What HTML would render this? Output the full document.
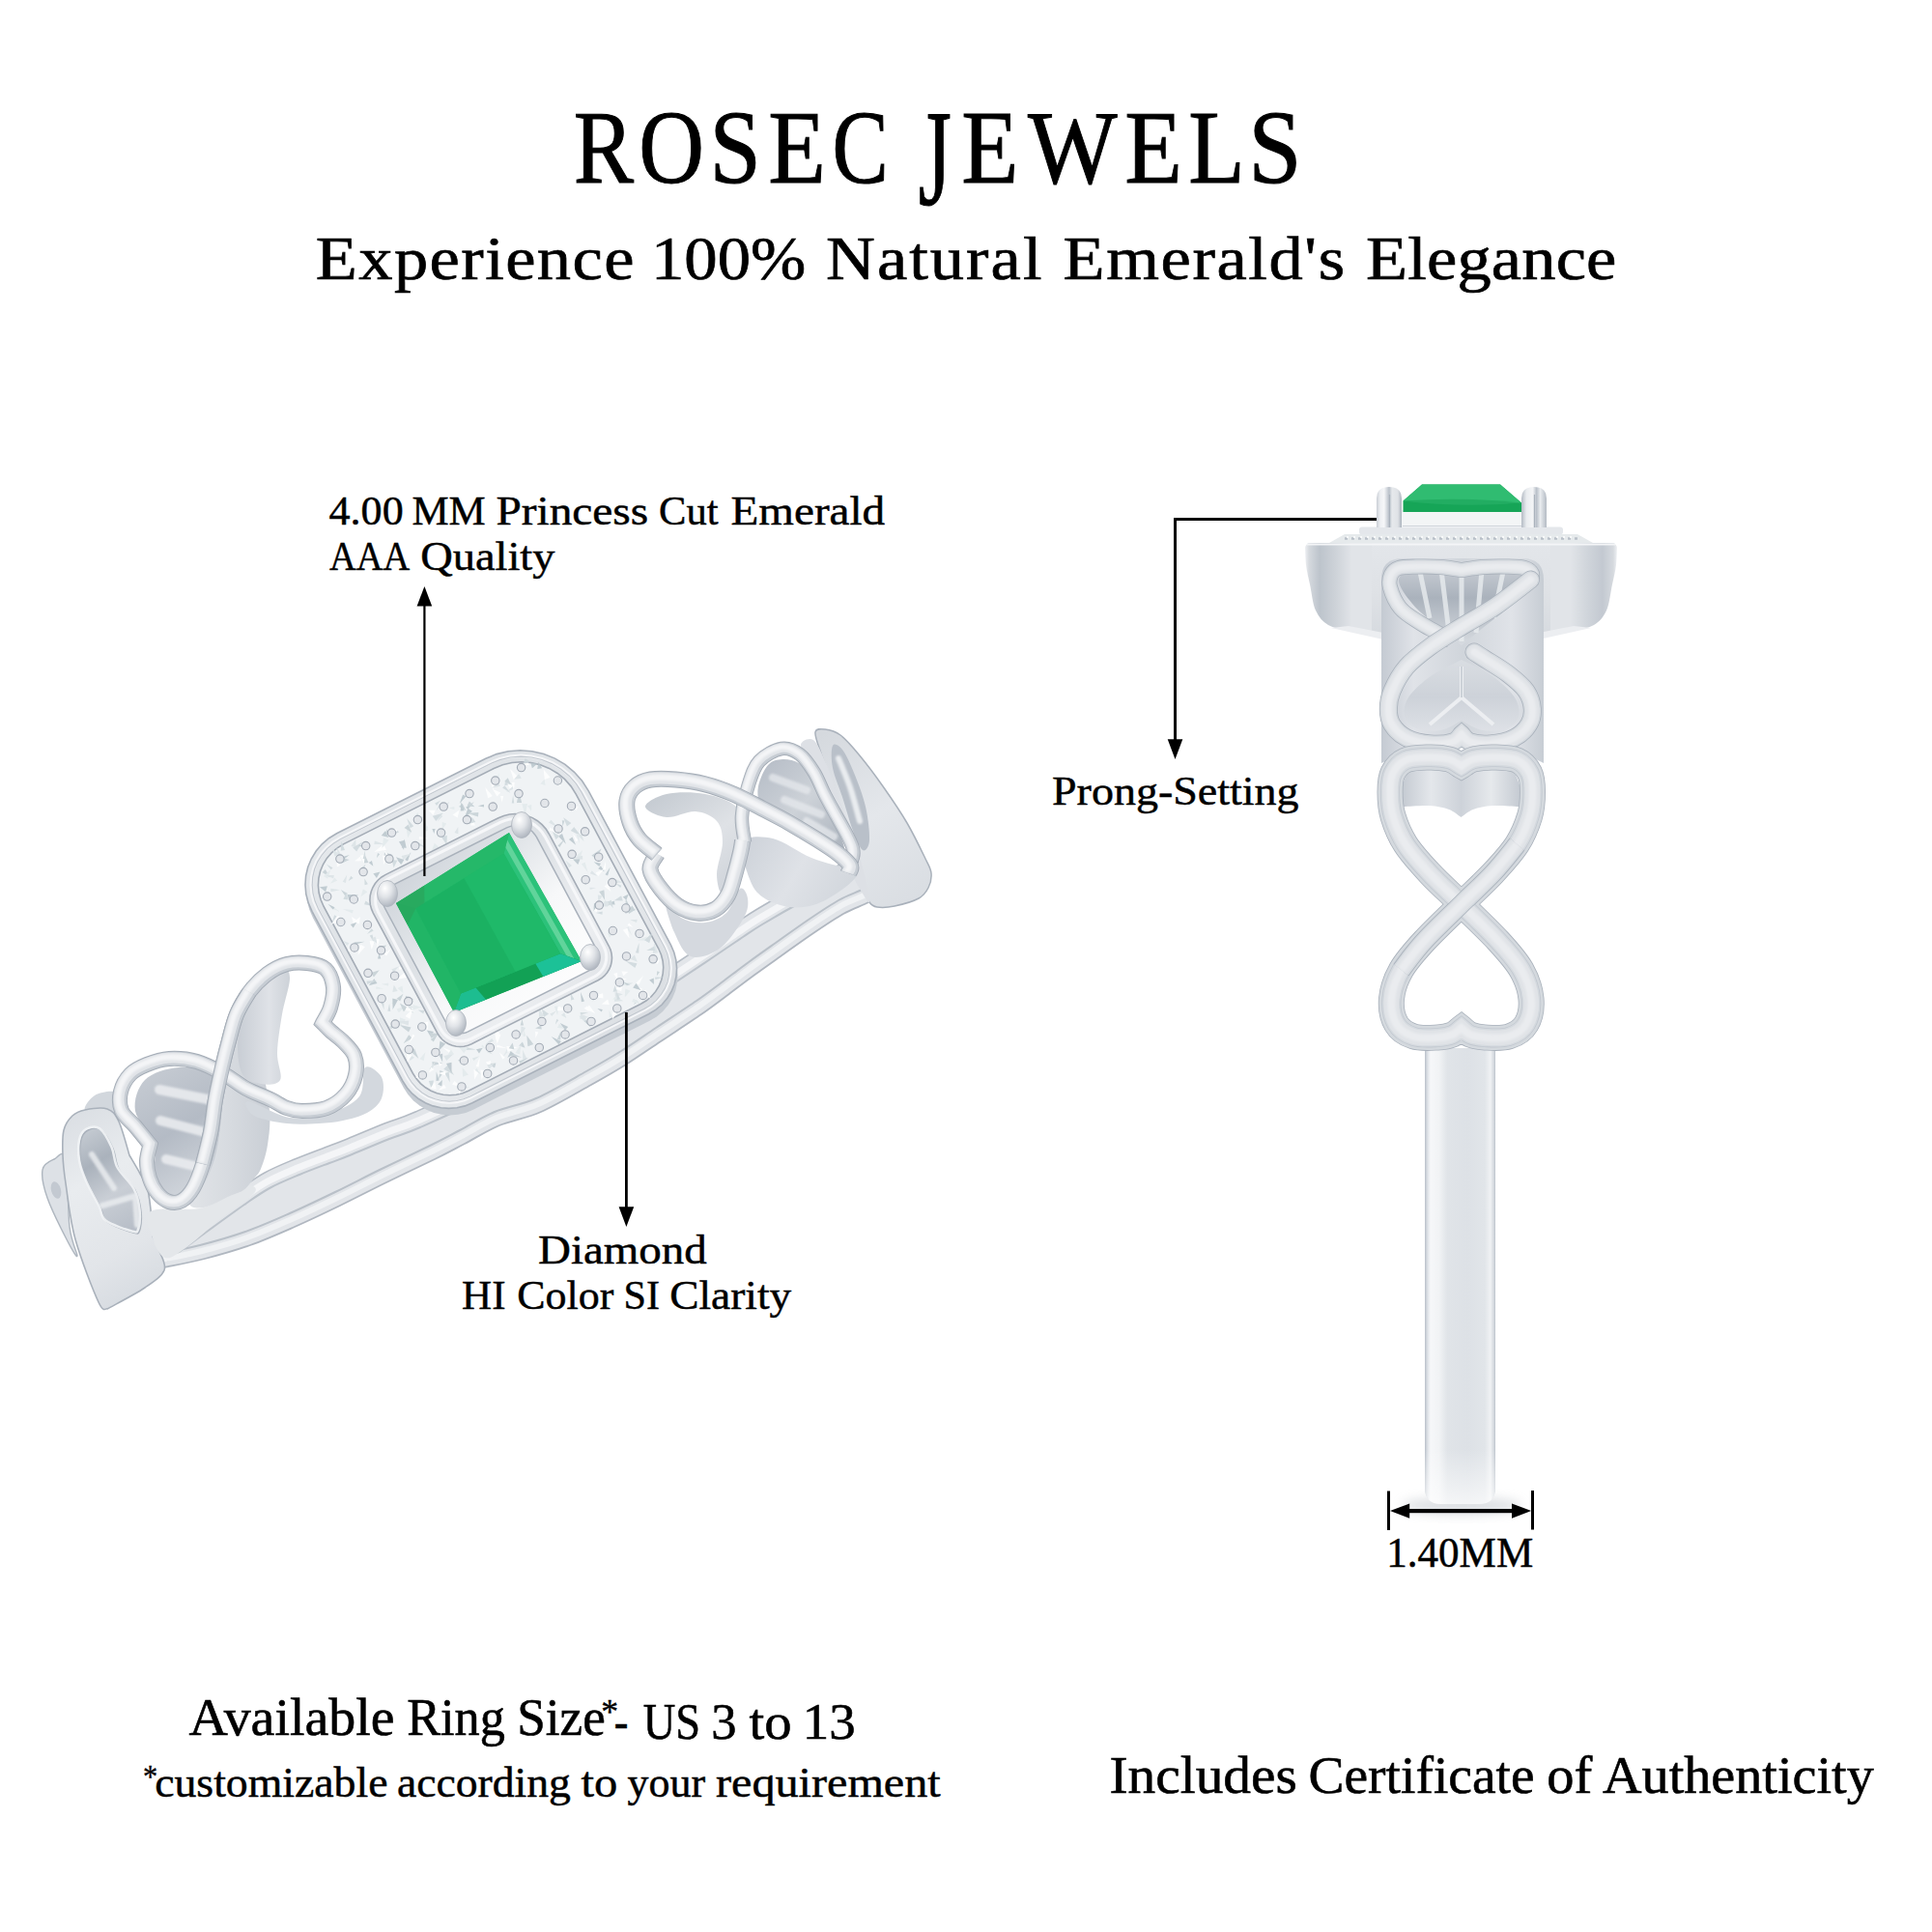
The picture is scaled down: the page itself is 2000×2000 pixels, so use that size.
<!DOCTYPE html>
<html><head><meta charset="utf-8"><title>Rosec Jewels</title>
<style>
html,body{margin:0;padding:0;background:#fff;}
body{width:2000px;height:2000px;overflow:hidden;font-family:"Liberation Serif",serif;}
svg{display:block;position:absolute;left:0;top:0;}
text{font-family:"Liberation Serif",serif;fill:#000;}
</style></head><body>
<svg width="2000" height="2000" viewBox="0 0 2000 2000">
<defs>
<filter id="blur6" x="-50%" y="-50%" width="200%" height="200%"><feGaussianBlur stdDeviation="6"/></filter>
<filter id="blur2" x="-50%" y="-50%" width="200%" height="200%"><feGaussianBlur stdDeviation="2"/></filter>
<filter id="blur1" x="-50%" y="-50%" width="200%" height="200%"><feGaussianBlur stdDeviation="1"/></filter>
<filter id="blur3" x="-50%" y="-50%" width="200%" height="200%"><feGaussianBlur stdDeviation="3.5"/></filter>
<linearGradient id="gShank" gradientUnits="userSpaceOnUse" x1="1475" y1="0" x2="1548" y2="0"><stop offset="0" stop-color="#b9c0c9"/><stop offset="0.04" stop-color="#dfe3e8"/><stop offset="0.08" stop-color="#f6f7f9"/><stop offset="0.2" stop-color="#f1f3f5"/><stop offset="0.32" stop-color="#e0e4e8"/><stop offset="0.6" stop-color="#dde1e6"/><stop offset="0.85" stop-color="#e1e5e9"/><stop offset="0.93" stop-color="#f0f2f4"/><stop offset="0.98" stop-color="#d2d7dd"/><stop offset="1" stop-color="#b9c0c9"/></linearGradient>
<linearGradient id="gShankB" gradientUnits="userSpaceOnUse" x1="0" y1="1500" x2="0" y2="1557"><stop offset="0" stop-color="#ffffff00"/><stop offset="1" stop-color="#ffffffaa"/></linearGradient>
<linearGradient id="gHeadL" gradientUnits="userSpaceOnUse" x1="1351" y1="0" x2="1420" y2="0"><stop offset="0" stop-color="#eef0f3"/><stop offset="0.06" stop-color="#d5d9de"/><stop offset="0.22" stop-color="#bdc4cc"/><stop offset="0.45" stop-color="#cdd2d8"/><stop offset="0.7" stop-color="#e1e4e8"/><stop offset="1" stop-color="#e1e4e8"/></linearGradient>
<linearGradient id="gHeadR" gradientUnits="userSpaceOnUse" x1="1674" y1="0" x2="1605" y2="0"><stop offset="0" stop-color="#eef0f3"/><stop offset="0.06" stop-color="#d5d9de"/><stop offset="0.22" stop-color="#c3c9d1"/><stop offset="0.45" stop-color="#d0d5db"/><stop offset="0.7" stop-color="#e1e4e8"/><stop offset="1" stop-color="#e1e4e8"/></linearGradient>
<linearGradient id="gHeadC" gradientUnits="userSpaceOnUse" x1="0" y1="562" x2="0" y2="660"><stop offset="0" stop-color="#e3e6ea"/><stop offset="0.5" stop-color="#dfe2e6"/><stop offset="1" stop-color="#d6dadf"/></linearGradient>
<linearGradient id="gPrL" gradientUnits="userSpaceOnUse" x1="1425" y1="0" x2="1451" y2="0"><stop offset="0" stop-color="#c9ced5"/><stop offset="0.15" stop-color="#eef0f3"/><stop offset="0.3" stop-color="#f6f7f9"/><stop offset="0.5" stop-color="#b9c0c9"/><stop offset="0.62" stop-color="#e6e9ec"/><stop offset="0.85" stop-color="#dfe2e6"/><stop offset="1" stop-color="#aab2bc"/></linearGradient>
<linearGradient id="gPrR" gradientUnits="userSpaceOnUse" x1="1575" y1="0" x2="1601" y2="0"><stop offset="0" stop-color="#b4bbc4"/><stop offset="0.2" stop-color="#e9ecef"/><stop offset="0.45" stop-color="#f4f5f7"/><stop offset="0.6" stop-color="#b9c0c9"/><stop offset="0.75" stop-color="#e9ecef"/><stop offset="1" stop-color="#b4bbc4"/></linearGradient>
<linearGradient id="gWall" gradientUnits="userSpaceOnUse" x1="1430" y1="0" x2="1598" y2="0"><stop offset="0" stop-color="#c4cad2"/><stop offset="0.2" stop-color="#e0e3e8"/><stop offset="0.5" stop-color="#d0d5db"/><stop offset="0.8" stop-color="#e0e3e8"/><stop offset="1" stop-color="#c7cdd4"/></linearGradient>
<linearGradient id="gIn1" gradientUnits="userSpaceOnUse" x1="0" y1="585" x2="0" y2="670"><stop offset="0" stop-color="#c9ced5"/><stop offset="0.4" stop-color="#aab2bc"/><stop offset="1" stop-color="#d9dde2"/></linearGradient>
<linearGradient id="gIn2" gradientUnits="userSpaceOnUse" x1="0" y1="683" x2="0" y2="760"><stop offset="0" stop-color="#d9dde2"/><stop offset="0.5" stop-color="#cdd2d9"/><stop offset="1" stop-color="#dfe2e7"/></linearGradient>
<linearGradient id="gW2" gradientUnits="userSpaceOnUse" x1="1450" y1="0" x2="1575" y2="0"><stop offset="0" stop-color="#c3c9d1"/><stop offset="0.25" stop-color="#e4e7eb"/><stop offset="0.5" stop-color="#cdd2d9"/><stop offset="0.75" stop-color="#e6e9ec"/><stop offset="1" stop-color="#c3c9d1"/></linearGradient><linearGradient id="gBand" gradientUnits="objectBoundingBox" x1="0" y1="0" x2="0.45" y2="1"><stop offset="0" stop-color="#f0f2f4"/><stop offset="0.12" stop-color="#e6e9ec"/><stop offset="0.2" stop-color="#d9dde2"/><stop offset="0.55" stop-color="#e4e7eb"/><stop offset="0.8" stop-color="#eceef1"/><stop offset="0.9" stop-color="#dde1e5"/><stop offset="1" stop-color="#cdd2d8"/></linearGradient>
<linearGradient id="gL3" gradientUnits="userSpaceOnUse" x1="60" y1="1150" x2="170" y2="1350"><stop offset="0" stop-color="#d9dde2"/><stop offset="0.35" stop-color="#e9ecef"/><stop offset="0.7" stop-color="#e2e5e9"/><stop offset="1" stop-color="#d3d8de"/></linearGradient>
<linearGradient id="gL3h" gradientUnits="userSpaceOnUse" x1="84" y1="1170" x2="146" y2="1276"><stop offset="0" stop-color="#c6ccd3"/><stop offset="0.3" stop-color="#aab2bc"/><stop offset="0.6" stop-color="#c9ced5"/><stop offset="1" stop-color="#b4bbc5"/></linearGradient>
<linearGradient id="gW3" gradientUnits="userSpaceOnUse" x1="200" y1="0" x2="280" y2="0"><stop offset="0" stop-color="#e0e3e7"/><stop offset="0.5" stop-color="#d6dadf"/><stop offset="1" stop-color="#c9ced5"/></linearGradient>
<linearGradient id="gW1" gradientUnits="userSpaceOnUse" x1="247" y1="0" x2="300" y2="0"><stop offset="0" stop-color="#c9ced5"/><stop offset="0.6" stop-color="#dfe2e7"/><stop offset="1" stop-color="#cdd2d8"/></linearGradient>
<linearGradient id="gL2" gradientUnits="userSpaceOnUse" x1="140" y1="1100" x2="225" y2="1240"><stop offset="0" stop-color="#c9ced5"/><stop offset="0.5" stop-color="#b4bbc5"/><stop offset="1" stop-color="#d9dde2"/></linearGradient>
<linearGradient id="gR3" gradientUnits="userSpaceOnUse" x1="850" y1="760" x2="960" y2="930"><stop offset="0" stop-color="#d5d9de"/><stop offset="0.5" stop-color="#e4e7eb"/><stop offset="1" stop-color="#d9dde2"/></linearGradient>
<linearGradient id="gWS" gradientUnits="userSpaceOnUse" x1="770" y1="870" x2="880" y2="935"><stop offset="0" stop-color="#cdd2d9"/><stop offset="0.5" stop-color="#dfe2e7"/><stop offset="1" stop-color="#d0d5db"/></linearGradient>
<linearGradient id="gWR1" gradientUnits="userSpaceOnUse" x1="690" y1="810" x2="775" y2="925"><stop offset="0" stop-color="#c4cad1"/><stop offset="0.5" stop-color="#dfe2e6"/><stop offset="1" stop-color="#cbd0d7"/></linearGradient>
<linearGradient id="gR2in" gradientUnits="userSpaceOnUse" x1="785" y1="786" x2="875" y2="880"><stop offset="0" stop-color="#b5bcc6"/><stop offset="0.5" stop-color="#cdd2d8"/><stop offset="1" stop-color="#aab2bc"/></linearGradient>
<linearGradient id="gHaloO" gradientUnits="userSpaceOnUse" x1="320" y1="800" x2="690" y2="1130"><stop offset="0" stop-color="#e9ecef"/><stop offset="0.3" stop-color="#dfe3e7"/><stop offset="0.6" stop-color="#e8ebee"/><stop offset="1" stop-color="#d5d9de"/></linearGradient>
<linearGradient id="gHaloI" gradientUnits="userSpaceOnUse" x1="370" y1="840" x2="640" y2="1090"><stop offset="0" stop-color="#eceef1"/><stop offset="0.4" stop-color="#dde1e5"/><stop offset="0.7" stop-color="#eceef1"/><stop offset="1" stop-color="#d3d8dd"/></linearGradient>
<linearGradient id="gInner" gradientUnits="userSpaceOnUse" x1="400" y1="860" x2="600" y2="1060"><stop offset="0" stop-color="#c3c9d1"/><stop offset="0.35" stop-color="#dfe3e7"/><stop offset="0.6" stop-color="#f7f8f9"/><stop offset="1" stop-color="#ffffff"/></linearGradient>
<linearGradient id="gEm" gradientUnits="userSpaceOnUse" x1="410" y1="900" x2="600" y2="1040"><stop offset="0" stop-color="#27b86a"/><stop offset="0.45" stop-color="#1fb867"/><stop offset="0.8" stop-color="#17a95c"/><stop offset="1" stop-color="#139f56"/></linearGradient>
<radialGradient id="gProng" cx="0.38" cy="0.3" r="0.75"><stop offset="0" stop-color="#ffffff"/><stop offset="0.45" stop-color="#e1e4e8"/><stop offset="1" stop-color="#aab1bb"/></radialGradient>
</defs>
<rect width="2000" height="2000" fill="#fff"/>
<g id="leftring">
<path d="M168.0,1289.0C174.2,1284.5 191.7,1271.7 205.0,1262.0C218.3,1252.3 236.5,1239.0 248.0,1231.0C259.5,1223.0 264.5,1219.2 274.0,1214.0C283.5,1208.8 294.7,1204.3 305.0,1200.0C315.3,1195.7 327.3,1191.3 336.0,1188.0C344.7,1184.7 346.7,1184.2 357.0,1180.0C367.3,1175.8 385.8,1167.8 398.0,1163.0C410.2,1158.2 413.0,1158.5 430.0,1151.0C447.0,1143.5 471.7,1132.7 500.0,1118.0C528.3,1103.3 568.2,1082.2 600.0,1063.0C631.8,1043.8 668.8,1017.7 691.0,1003.0C713.2,988.3 720.8,983.2 733.0,975.0C745.2,966.8 755.5,959.7 764.0,954.0C772.5,948.3 773.7,947.2 784.0,941.0C794.3,934.8 811.7,924.7 826.0,917.0C840.3,909.3 857.7,900.3 870.0,895.0C882.3,889.7 895.0,886.7 900.0,885.0L905,931C903.3,931.8 900.3,933.5 895.0,936.0C889.7,938.5 881.8,941.0 873.0,946.0C864.2,951.0 852.8,958.7 842.0,966.0C831.2,973.3 818.3,982.7 808.0,990.0C797.7,997.3 789.3,1003.2 780.0,1010.0C770.7,1016.8 761.0,1024.3 752.0,1031.0C743.0,1037.7 737.3,1042.2 726.0,1050.0C714.7,1057.8 697.0,1069.3 684.0,1078.0C671.0,1086.7 660.0,1094.5 648.0,1102.0C636.0,1109.5 626.7,1114.8 612.0,1123.0C597.3,1131.2 575.8,1144.0 560.0,1151.0C544.2,1158.0 530.2,1159.5 517.0,1165.0C503.8,1170.5 492.2,1178.2 481.0,1184.0C469.8,1189.8 463.8,1193.2 450.0,1200.0C436.2,1206.8 414.3,1217.0 398.0,1225.0C381.7,1233.0 367.5,1240.5 352.0,1248.0C336.5,1255.5 320.5,1263.2 305.0,1270.0C289.5,1276.8 274.5,1283.5 259.0,1289.0C243.5,1294.5 226.8,1299.2 212.0,1303.0C197.2,1306.8 177.0,1310.5 170.0,1312.0Z" fill="#e2e5e9"/>
<path d="M171.0,1298.0C177.2,1293.5 194.7,1280.7 208.0,1271.0C221.3,1261.3 239.5,1248.0 251.0,1240.0C262.5,1232.0 267.5,1228.2 277.0,1223.0C286.5,1217.8 297.7,1213.3 308.0,1209.0C318.3,1204.7 330.3,1200.3 339.0,1197.0C347.7,1193.7 349.7,1193.2 360.0,1189.0C370.3,1184.8 388.8,1176.8 401.0,1172.0C413.2,1167.2 416.0,1167.5 433.0,1160.0C450.0,1152.5 474.7,1141.7 503.0,1127.0C531.3,1112.3 571.2,1091.2 603.0,1072.0C634.8,1052.8 671.8,1026.7 694.0,1012.0C716.2,997.3 723.8,992.2 736.0,984.0C748.2,975.8 758.5,968.7 767.0,963.0C775.5,957.3 776.7,956.2 787.0,950.0C797.3,943.8 814.7,933.7 829.0,926.0C843.3,918.3 860.7,909.3 873.0,904.0C885.3,898.7 898.0,895.7 903.0,894.0" fill="none" stroke="#f4f5f7" stroke-width="7"/>
<path d="M173.0,1305.0C179.2,1300.5 196.7,1287.7 210.0,1278.0C223.3,1268.3 241.5,1255.0 253.0,1247.0C264.5,1239.0 269.5,1235.2 279.0,1230.0C288.5,1224.8 299.7,1220.3 310.0,1216.0C320.3,1211.7 332.3,1207.3 341.0,1204.0C349.7,1200.7 351.7,1200.2 362.0,1196.0C372.3,1191.8 390.8,1183.8 403.0,1179.0C415.2,1174.2 418.0,1174.5 435.0,1167.0C452.0,1159.5 476.7,1148.7 505.0,1134.0C533.3,1119.3 573.2,1098.2 605.0,1079.0C636.8,1059.8 673.8,1033.7 696.0,1019.0C718.2,1004.3 725.8,999.2 738.0,991.0C750.2,982.8 760.5,975.7 769.0,970.0C777.5,964.3 778.7,963.2 789.0,957.0C799.3,950.8 816.7,940.7 831.0,933.0C845.3,925.3 862.7,916.3 875.0,911.0C887.3,905.7 900.0,902.7 905.0,901.0" fill="none" stroke="#bcc3cb" stroke-width="2"/>
<path d="M902.0,923.0C900.3,923.8 897.3,925.5 892.0,928.0C886.7,930.5 878.8,933.0 870.0,938.0C861.2,943.0 849.8,950.7 839.0,958.0C828.2,965.3 815.3,974.7 805.0,982.0C794.7,989.3 786.3,995.2 777.0,1002.0C767.7,1008.8 758.0,1016.3 749.0,1023.0C740.0,1029.7 734.3,1034.2 723.0,1042.0C711.7,1049.8 694.0,1061.3 681.0,1070.0C668.0,1078.7 657.0,1086.5 645.0,1094.0C633.0,1101.5 623.7,1106.8 609.0,1115.0C594.3,1123.2 572.8,1136.0 557.0,1143.0C541.2,1150.0 527.2,1151.5 514.0,1157.0C500.8,1162.5 489.2,1170.2 478.0,1176.0C466.8,1181.8 460.8,1185.2 447.0,1192.0C433.2,1198.8 411.3,1209.0 395.0,1217.0C378.7,1225.0 364.5,1232.5 349.0,1240.0C333.5,1247.5 317.5,1255.2 302.0,1262.0C286.5,1268.8 271.5,1275.5 256.0,1281.0C240.5,1286.5 223.8,1291.2 209.0,1295.0C194.2,1298.8 174.0,1302.5 167.0,1304.0" fill="none" stroke="#f0f2f4" stroke-width="6"/>
<path d="M900.0,917.0C898.3,917.8 895.3,919.5 890.0,922.0C884.7,924.5 876.8,927.0 868.0,932.0C859.2,937.0 847.8,944.7 837.0,952.0C826.2,959.3 813.3,968.7 803.0,976.0C792.7,983.3 784.3,989.2 775.0,996.0C765.7,1002.8 756.0,1010.3 747.0,1017.0C738.0,1023.7 732.3,1028.2 721.0,1036.0C709.7,1043.8 692.0,1055.3 679.0,1064.0C666.0,1072.7 655.0,1080.5 643.0,1088.0C631.0,1095.5 621.7,1100.8 607.0,1109.0C592.3,1117.2 570.8,1130.0 555.0,1137.0C539.2,1144.0 525.2,1145.5 512.0,1151.0C498.8,1156.5 487.2,1164.2 476.0,1170.0C464.8,1175.8 458.8,1179.2 445.0,1186.0C431.2,1192.8 409.3,1203.0 393.0,1211.0C376.7,1219.0 362.5,1226.5 347.0,1234.0C331.5,1241.5 315.5,1249.2 300.0,1256.0C284.5,1262.8 269.5,1269.5 254.0,1275.0C238.5,1280.5 221.8,1285.2 207.0,1289.0C192.2,1292.8 172.0,1296.5 165.0,1298.0" fill="none" stroke="#b9c0c8" stroke-width="2"/>
<path d="M905.0,931.0C903.3,931.8 900.3,933.5 895.0,936.0C889.7,938.5 881.8,941.0 873.0,946.0C864.2,951.0 852.8,958.7 842.0,966.0C831.2,973.3 818.3,982.7 808.0,990.0C797.7,997.3 789.3,1003.2 780.0,1010.0C770.7,1016.8 761.0,1024.3 752.0,1031.0C743.0,1037.7 737.3,1042.2 726.0,1050.0C714.7,1057.8 697.0,1069.3 684.0,1078.0C671.0,1086.7 660.0,1094.5 648.0,1102.0C636.0,1109.5 626.7,1114.8 612.0,1123.0C597.3,1131.2 575.8,1144.0 560.0,1151.0C544.2,1158.0 530.2,1159.5 517.0,1165.0C503.8,1170.5 492.2,1178.2 481.0,1184.0C469.8,1189.8 463.8,1193.2 450.0,1200.0C436.2,1206.8 414.3,1217.0 398.0,1225.0C381.7,1233.0 367.5,1240.5 352.0,1248.0C336.5,1255.5 320.5,1263.2 305.0,1270.0C289.5,1276.8 274.5,1283.5 259.0,1289.0C243.5,1294.5 226.8,1299.2 212.0,1303.0C197.2,1306.8 177.0,1310.5 170.0,1312.0" fill="none" stroke="#b0b7c0" stroke-width="1.8"/>
<path d="M168.0,1289.0C174.2,1284.5 191.7,1271.7 205.0,1262.0C218.3,1252.3 236.5,1239.0 248.0,1231.0C259.5,1223.0 264.5,1219.2 274.0,1214.0C283.5,1208.8 294.7,1204.3 305.0,1200.0C315.3,1195.7 327.3,1191.3 336.0,1188.0C344.7,1184.7 346.7,1184.2 357.0,1180.0C367.3,1175.8 385.8,1167.8 398.0,1163.0C410.2,1158.2 413.0,1158.5 430.0,1151.0C447.0,1143.5 471.7,1132.7 500.0,1118.0C528.3,1103.3 568.2,1082.2 600.0,1063.0C631.8,1043.8 668.8,1017.7 691.0,1003.0C713.2,988.3 720.8,983.2 733.0,975.0C745.2,966.8 755.5,959.7 764.0,954.0C772.5,948.3 773.7,947.2 784.0,941.0C794.3,934.8 811.7,924.7 826.0,917.0C840.3,909.3 857.7,900.3 870.0,895.0C882.3,889.7 895.0,886.7 900.0,885.0" fill="none" stroke="#b4bbc4" stroke-width="1.5"/>
<path d="M44.0,1211.0C45.2,1204.3 52.0,1201.8 56.0,1200.0C60.0,1198.2 65.3,1188.3 68.0,1200.0C70.7,1211.7 70.0,1253.3 72.0,1270.0C74.0,1286.7 80.3,1297.5 80.0,1300.0C79.7,1302.5 75.2,1295.0 70.0,1285.0C64.8,1275.0 53.3,1252.3 49.0,1240.0C44.7,1227.7 42.8,1217.7 44.0,1211.0Z" fill="#dde1e6" stroke="#aeb6bf" stroke-width="1.4"/>
<ellipse cx="58" cy="1232" rx="5" ry="9" fill="#c3c9d1" transform="rotate(-15 58 1232)"/>
<path d="M88.0,1149.0C85.8,1146.7 93.0,1137.2 98.0,1134.0C103.0,1130.8 113.7,1129.0 118.0,1130.0C122.3,1131.0 123.2,1134.8 124.0,1140.0C124.8,1145.2 125.2,1159.7 123.0,1161.0C120.8,1162.3 116.8,1150.0 111.0,1148.0C105.2,1146.0 90.2,1151.3 88.0,1149.0Z" fill="#d2d7dd" />
<path d="M134.0,1196.0C135.8,1199.2 141.8,1209.0 145.0,1215.0C148.2,1221.0 151.0,1224.2 153.0,1232.0C155.0,1239.8 156.2,1254.0 157.0,1262.0C157.8,1270.0 157.8,1277.0 158.0,1280.0C159.2,1282.5 163.0,1289.2 165.0,1295.0C167.0,1300.8 172.5,1308.7 170.0,1315.0C167.5,1321.3 159.8,1326.3 150.0,1333.0C140.2,1339.7 117.5,1351.3 111.0,1355.0C109.5,1353.8 107.5,1360.0 102.0,1348.0C96.5,1336.0 83.7,1303.5 78.0,1283.0C72.3,1262.5 70.2,1239.5 68.0,1225.0C65.8,1210.5 65.3,1205.2 65.0,1196.0C64.7,1186.8 64.3,1176.8 66.0,1170.0C67.7,1163.2 71.3,1158.5 75.0,1155.0C78.7,1151.5 82.0,1150.2 88.0,1149.0C94.0,1147.8 105.2,1146.0 111.0,1148.0C116.8,1150.0 119.2,1153.0 123.0,1161.0C126.8,1169.0 132.2,1190.2 134.0,1196.0Z" fill="url(#gL3)" stroke="#a9b1bb" stroke-width="1.6" stroke-linejoin="round"/>
<path d="M83.6,1181.0C84.8,1175.5 87.4,1171.8 91.0,1170.0C94.6,1168.2 100.7,1166.8 105.0,1170.0C109.3,1173.2 114.0,1182.3 117.0,1189.0C120.0,1195.7 119.2,1202.8 123.0,1210.0C126.8,1217.2 136.2,1224.7 140.0,1232.0C143.8,1239.3 145.2,1247.0 146.0,1254.0C146.8,1261.0 145.8,1270.3 144.5,1274.0C143.2,1277.7 143.6,1277.5 138.0,1276.0C132.4,1274.5 116.7,1269.3 111.0,1265.0C105.3,1260.7 107.3,1256.7 104.0,1250.0C100.7,1243.3 94.4,1232.8 91.0,1225.0C87.6,1217.2 84.8,1210.3 83.6,1203.0C82.4,1195.7 82.4,1186.5 83.6,1181.0Z" fill="url(#gL3h)" stroke="#a9b1bb" stroke-width="1.4"/>
<path d="M83.6,1181.0C84.8,1175.5 87.4,1171.8 91.0,1170.0C94.6,1168.2 100.7,1166.8 105.0,1170.0C109.3,1173.2 114.0,1182.3 117.0,1189.0C120.0,1195.7 119.2,1202.8 123.0,1210.0C126.8,1217.2 136.2,1224.7 140.0,1232.0C143.8,1239.3 145.2,1247.0 146.0,1254.0C146.8,1261.0 145.8,1270.3 144.5,1274.0C143.2,1277.7 143.6,1277.5 138.0,1276.0C132.4,1274.5 116.7,1269.3 111.0,1265.0C105.3,1260.7 107.3,1256.7 104.0,1250.0C100.7,1243.3 94.4,1232.8 91.0,1225.0C87.6,1217.2 84.8,1210.3 83.6,1203.0C82.4,1195.7 82.4,1186.5 83.6,1181.0Z" fill="none" stroke="#f2f4f6" stroke-width="2.5" transform="translate(-1.5,-1.5)" opacity="0.9"/>
<path d="M95,1195 L118,1230 M106,1248 L140,1238 L142,1268" stroke="#e9ecef" stroke-width="6" fill="none" stroke-linecap="round" stroke-linejoin="round" opacity="0.85" filter="url(#blur1)"/>
<path d="M156.0,1254.0C164.8,1248.7 195.3,1254.3 211.0,1250.0C226.7,1245.7 241.2,1230.7 250.0,1228.0C258.8,1225.3 267.7,1228.3 264.0,1234.0C260.3,1239.7 240.0,1252.3 228.0,1262.0C216.0,1271.7 201.5,1285.3 192.0,1292.0C182.5,1298.7 176.7,1303.7 171.0,1302.0C165.3,1300.3 160.5,1290.0 158.0,1282.0C155.5,1274.0 147.2,1259.3 156.0,1254.0Z" fill="#e4e7ea" />
<path d="M240.0,1070.0C244.7,1065.5 253.0,1073.0 258.0,1078.0C263.0,1083.0 266.5,1088.0 270.0,1100.0C273.5,1112.0 277.8,1135.8 279.0,1150.0C280.2,1164.2 278.5,1175.0 277.0,1185.0C275.5,1195.0 272.5,1204.0 270.0,1210.0C267.5,1216.0 265.0,1217.3 262.0,1221.0C259.0,1224.7 256.0,1229.2 252.0,1232.0C248.0,1234.8 244.8,1235.0 238.0,1238.0C231.2,1241.0 218.0,1248.7 211.0,1250.0C204.0,1251.3 196.8,1250.2 196.0,1246.0C195.2,1241.8 203.2,1232.7 206.0,1225.0C208.8,1217.3 211.0,1208.8 213.0,1200.0C215.0,1191.2 216.3,1182.3 218.0,1172.0C219.7,1161.7 221.0,1149.2 223.0,1138.0C225.0,1126.8 227.2,1116.3 230.0,1105.0C232.8,1093.7 235.3,1074.5 240.0,1070.0Z" fill="url(#gW3)" />
<path d="M290.0,1003.0C296.3,1000.0 299.7,1004.2 300.0,1012.0C300.3,1019.8 294.2,1037.0 292.0,1050.0C289.8,1063.0 287.3,1078.7 287.0,1090.0C286.7,1101.3 292.8,1112.7 290.0,1118.0C287.2,1123.3 276.7,1123.3 270.0,1122.0C263.3,1120.7 253.8,1118.7 250.0,1110.0C246.2,1101.3 245.0,1083.3 247.0,1070.0C249.0,1056.7 254.8,1041.2 262.0,1030.0C269.2,1018.8 283.7,1006.0 290.0,1003.0Z" fill="url(#gW1)" />
<path d="M257.0,1140.0C263.2,1140.3 286.2,1154.8 300.0,1157.0C313.8,1159.2 328.0,1156.7 340.0,1153.0C352.0,1149.3 365.7,1143.0 372.0,1135.0C378.3,1127.0 374.2,1108.3 378.0,1105.0C381.8,1101.7 392.2,1109.7 395.0,1115.0C397.8,1120.3 397.5,1130.8 395.0,1137.0C392.5,1143.2 386.7,1148.2 380.0,1152.0C373.3,1155.8 363.3,1158.2 355.0,1160.0C346.7,1161.8 339.7,1162.5 330.0,1163.0C320.3,1163.5 308.2,1164.3 297.0,1163.0C285.8,1161.7 269.7,1158.8 263.0,1155.0C256.3,1151.2 250.8,1139.7 257.0,1140.0Z" fill="#d3d8de" />
<path d="M160.0,1183.0C156.7,1172.2 141.7,1160.8 140.0,1150.0C138.3,1139.2 142.5,1125.5 150.0,1118.0C157.5,1110.5 172.5,1106.0 185.0,1105.0C197.5,1104.0 217.5,1106.2 225.0,1112.0C232.5,1117.8 230.5,1125.3 230.0,1140.0C229.5,1154.7 227.0,1183.3 222.0,1200.0C217.0,1216.7 208.3,1233.3 200.0,1240.0C191.7,1246.7 178.7,1244.2 172.0,1240.0C165.3,1235.8 162.0,1224.5 160.0,1215.0C158.0,1205.5 163.3,1193.8 160.0,1183.0Z" fill="url(#gL2)" />
<path d="M165,1128 L215,1138 M166,1160 L212,1172 M172,1200 L205,1208" stroke="#eceef1" stroke-width="10" stroke-linecap="round" opacity="0.85" filter="url(#blur1)"/>
<path d="M334.0,1059.0C335.3,1056.3 340.2,1049.2 342.0,1043.0C343.8,1036.8 345.8,1028.7 345.0,1022.0C344.2,1015.3 341.5,1007.2 337.0,1003.0C332.5,998.8 324.7,997.8 318.0,997.0C311.3,996.2 303.8,996.2 297.0,998.0C290.2,999.8 283.5,1003.2 277.0,1008.0C270.5,1012.8 263.3,1020.0 258.0,1027.0C252.7,1034.0 248.5,1041.7 245.0,1050.0C241.5,1058.3 239.5,1067.8 237.0,1077.0C234.5,1086.2 232.3,1094.8 230.0,1105.0C227.7,1115.2 225.0,1126.8 223.0,1138.0C221.0,1149.2 220.2,1160.8 218.0,1172.0C215.8,1183.2 213.0,1195.3 210.0,1205.0C207.0,1214.7 203.7,1223.7 200.0,1230.0C196.3,1236.3 192.2,1240.7 188.0,1243.0C183.8,1245.3 179.2,1245.3 175.0,1244.0C170.8,1242.7 166.3,1239.0 163.0,1235.0C159.7,1231.0 156.8,1225.5 155.0,1220.0C153.2,1214.5 151.9,1207.8 152.0,1202.0C152.1,1196.2 154.9,1187.8 155.5,1185.0C152.9,1181.8 144.9,1171.8 140.0,1166.0C135.1,1160.2 128.5,1156.0 126.0,1150.0C123.5,1144.0 123.5,1136.3 125.0,1130.0C126.5,1123.7 130.5,1116.7 135.0,1112.0C139.5,1107.3 145.3,1104.7 152.0,1102.0C158.7,1099.3 166.3,1096.5 175.0,1096.0C183.7,1095.5 194.5,1096.3 204.0,1099.0C213.5,1101.7 223.5,1107.3 232.0,1112.0C240.5,1116.7 247.0,1122.7 255.0,1127.0C263.0,1131.3 273.0,1134.7 280.0,1138.0C287.0,1141.3 291.5,1145.0 297.0,1147.0C302.5,1149.0 306.2,1150.0 313.0,1150.0C319.8,1150.0 330.5,1149.8 338.0,1147.0C345.5,1144.2 353.0,1138.7 358.0,1133.0C363.0,1127.3 366.5,1119.7 368.0,1113.0C369.5,1106.3 369.2,1098.8 367.0,1093.0C364.8,1087.2 359.0,1082.2 355.0,1078.0C351.0,1073.8 346.5,1071.2 343.0,1068.0C339.5,1064.8 335.5,1060.5 334.0,1059.0Z" fill="none" stroke-linecap="butt" stroke-linejoin="miter" stroke-miterlimit="3" stroke="#a4acb6" stroke-width="16"/>
<path d="M334.0,1059.0C335.3,1056.3 340.2,1049.2 342.0,1043.0C343.8,1036.8 345.8,1028.7 345.0,1022.0C344.2,1015.3 341.5,1007.2 337.0,1003.0C332.5,998.8 324.7,997.8 318.0,997.0C311.3,996.2 303.8,996.2 297.0,998.0C290.2,999.8 283.5,1003.2 277.0,1008.0C270.5,1012.8 263.3,1020.0 258.0,1027.0C252.7,1034.0 248.5,1041.7 245.0,1050.0C241.5,1058.3 239.5,1067.8 237.0,1077.0C234.5,1086.2 232.3,1094.8 230.0,1105.0C227.7,1115.2 225.0,1126.8 223.0,1138.0C221.0,1149.2 220.2,1160.8 218.0,1172.0C215.8,1183.2 213.0,1195.3 210.0,1205.0C207.0,1214.7 203.7,1223.7 200.0,1230.0C196.3,1236.3 192.2,1240.7 188.0,1243.0C183.8,1245.3 179.2,1245.3 175.0,1244.0C170.8,1242.7 166.3,1239.0 163.0,1235.0C159.7,1231.0 156.8,1225.5 155.0,1220.0C153.2,1214.5 151.9,1207.8 152.0,1202.0C152.1,1196.2 154.9,1187.8 155.5,1185.0C152.9,1181.8 144.9,1171.8 140.0,1166.0C135.1,1160.2 128.5,1156.0 126.0,1150.0C123.5,1144.0 123.5,1136.3 125.0,1130.0C126.5,1123.7 130.5,1116.7 135.0,1112.0C139.5,1107.3 145.3,1104.7 152.0,1102.0C158.7,1099.3 166.3,1096.5 175.0,1096.0C183.7,1095.5 194.5,1096.3 204.0,1099.0C213.5,1101.7 223.5,1107.3 232.0,1112.0C240.5,1116.7 247.0,1122.7 255.0,1127.0C263.0,1131.3 273.0,1134.7 280.0,1138.0C287.0,1141.3 291.5,1145.0 297.0,1147.0C302.5,1149.0 306.2,1150.0 313.0,1150.0C319.8,1150.0 330.5,1149.8 338.0,1147.0C345.5,1144.2 353.0,1138.7 358.0,1133.0C363.0,1127.3 366.5,1119.7 368.0,1113.0C369.5,1106.3 369.2,1098.8 367.0,1093.0C364.8,1087.2 359.0,1082.2 355.0,1078.0C351.0,1073.8 346.5,1071.2 343.0,1068.0C339.5,1064.8 335.5,1060.5 334.0,1059.0Z" fill="none" stroke-linecap="butt" stroke-linejoin="miter" stroke-miterlimit="3" stroke="#c6ccd3" stroke-width="14.2"/>
<path d="M334.0,1059.0C335.3,1056.3 340.2,1049.2 342.0,1043.0C343.8,1036.8 345.8,1028.7 345.0,1022.0C344.2,1015.3 341.5,1007.2 337.0,1003.0C332.5,998.8 324.7,997.8 318.0,997.0C311.3,996.2 303.8,996.2 297.0,998.0C290.2,999.8 283.5,1003.2 277.0,1008.0C270.5,1012.8 263.3,1020.0 258.0,1027.0C252.7,1034.0 248.5,1041.7 245.0,1050.0C241.5,1058.3 239.5,1067.8 237.0,1077.0C234.5,1086.2 232.3,1094.8 230.0,1105.0C227.7,1115.2 225.0,1126.8 223.0,1138.0C221.0,1149.2 220.2,1160.8 218.0,1172.0C215.8,1183.2 213.0,1195.3 210.0,1205.0C207.0,1214.7 203.7,1223.7 200.0,1230.0C196.3,1236.3 192.2,1240.7 188.0,1243.0C183.8,1245.3 179.2,1245.3 175.0,1244.0C170.8,1242.7 166.3,1239.0 163.0,1235.0C159.7,1231.0 156.8,1225.5 155.0,1220.0C153.2,1214.5 151.9,1207.8 152.0,1202.0C152.1,1196.2 154.9,1187.8 155.5,1185.0C152.9,1181.8 144.9,1171.8 140.0,1166.0C135.1,1160.2 128.5,1156.0 126.0,1150.0C123.5,1144.0 123.5,1136.3 125.0,1130.0C126.5,1123.7 130.5,1116.7 135.0,1112.0C139.5,1107.3 145.3,1104.7 152.0,1102.0C158.7,1099.3 166.3,1096.5 175.0,1096.0C183.7,1095.5 194.5,1096.3 204.0,1099.0C213.5,1101.7 223.5,1107.3 232.0,1112.0C240.5,1116.7 247.0,1122.7 255.0,1127.0C263.0,1131.3 273.0,1134.7 280.0,1138.0C287.0,1141.3 291.5,1145.0 297.0,1147.0C302.5,1149.0 306.2,1150.0 313.0,1150.0C319.8,1150.0 330.5,1149.8 338.0,1147.0C345.5,1144.2 353.0,1138.7 358.0,1133.0C363.0,1127.3 366.5,1119.7 368.0,1113.0C369.5,1106.3 369.2,1098.8 367.0,1093.0C364.8,1087.2 359.0,1082.2 355.0,1078.0C351.0,1073.8 346.5,1071.2 343.0,1068.0C339.5,1064.8 335.5,1060.5 334.0,1059.0Z" fill="none" stroke-linecap="butt" stroke-linejoin="miter" stroke-miterlimit="3" stroke="#e1e4e8" stroke-width="11" transform="translate(-0.8,-0.8)"/>
<path d="M334.0,1059.0C335.3,1056.3 340.2,1049.2 342.0,1043.0C343.8,1036.8 345.8,1028.7 345.0,1022.0C344.2,1015.3 341.5,1007.2 337.0,1003.0C332.5,998.8 324.7,997.8 318.0,997.0C311.3,996.2 303.8,996.2 297.0,998.0C290.2,999.8 283.5,1003.2 277.0,1008.0C270.5,1012.8 263.3,1020.0 258.0,1027.0C252.7,1034.0 248.5,1041.7 245.0,1050.0C241.5,1058.3 239.5,1067.8 237.0,1077.0C234.5,1086.2 232.3,1094.8 230.0,1105.0C227.7,1115.2 225.0,1126.8 223.0,1138.0C221.0,1149.2 220.2,1160.8 218.0,1172.0C215.8,1183.2 213.0,1195.3 210.0,1205.0C207.0,1214.7 203.7,1223.7 200.0,1230.0C196.3,1236.3 192.2,1240.7 188.0,1243.0C183.8,1245.3 179.2,1245.3 175.0,1244.0C170.8,1242.7 166.3,1239.0 163.0,1235.0C159.7,1231.0 156.8,1225.5 155.0,1220.0C153.2,1214.5 151.9,1207.8 152.0,1202.0C152.1,1196.2 154.9,1187.8 155.5,1185.0C152.9,1181.8 144.9,1171.8 140.0,1166.0C135.1,1160.2 128.5,1156.0 126.0,1150.0C123.5,1144.0 123.5,1136.3 125.0,1130.0C126.5,1123.7 130.5,1116.7 135.0,1112.0C139.5,1107.3 145.3,1104.7 152.0,1102.0C158.7,1099.3 166.3,1096.5 175.0,1096.0C183.7,1095.5 194.5,1096.3 204.0,1099.0C213.5,1101.7 223.5,1107.3 232.0,1112.0C240.5,1116.7 247.0,1122.7 255.0,1127.0C263.0,1131.3 273.0,1134.7 280.0,1138.0C287.0,1141.3 291.5,1145.0 297.0,1147.0C302.5,1149.0 306.2,1150.0 313.0,1150.0C319.8,1150.0 330.5,1149.8 338.0,1147.0C345.5,1144.2 353.0,1138.7 358.0,1133.0C363.0,1127.3 366.5,1119.7 368.0,1113.0C369.5,1106.3 369.2,1098.8 367.0,1093.0C364.8,1087.2 359.0,1082.2 355.0,1078.0C351.0,1073.8 346.5,1071.2 343.0,1068.0C339.5,1064.8 335.5,1060.5 334.0,1059.0Z" fill="none" stroke-linecap="butt" stroke-linejoin="miter" stroke-miterlimit="3" stroke="#f4f5f7" stroke-width="5.8" filter="url(#blur1)" transform="translate(-1.6,-1.6)"/>
<path d="M258.0,1027.0C255.8,1030.8 248.5,1041.7 245.0,1050.0C241.5,1058.3 239.5,1067.8 237.0,1077.0C234.5,1086.2 232.3,1094.8 230.0,1105.0C227.7,1115.2 225.0,1126.8 223.0,1138.0C221.0,1149.2 220.2,1160.8 218.0,1172.0C215.8,1183.2 211.3,1199.5 210.0,1205.0" fill="none" stroke-linecap="butt" stroke-linejoin="miter" stroke-miterlimit="3" stroke="#a4acb6" stroke-width="16"/>
<path d="M258.0,1027.0C255.8,1030.8 248.5,1041.7 245.0,1050.0C241.5,1058.3 239.5,1067.8 237.0,1077.0C234.5,1086.2 232.3,1094.8 230.0,1105.0C227.7,1115.2 225.0,1126.8 223.0,1138.0C221.0,1149.2 220.2,1160.8 218.0,1172.0C215.8,1183.2 211.3,1199.5 210.0,1205.0" fill="none" stroke-linecap="butt" stroke-linejoin="miter" stroke-miterlimit="3" stroke="#c6ccd3" stroke-width="14.2"/>
<path d="M258.0,1027.0C255.8,1030.8 248.5,1041.7 245.0,1050.0C241.5,1058.3 239.5,1067.8 237.0,1077.0C234.5,1086.2 232.3,1094.8 230.0,1105.0C227.7,1115.2 225.0,1126.8 223.0,1138.0C221.0,1149.2 220.2,1160.8 218.0,1172.0C215.8,1183.2 211.3,1199.5 210.0,1205.0" fill="none" stroke-linecap="butt" stroke-linejoin="miter" stroke-miterlimit="3" stroke="#e1e4e8" stroke-width="11" transform="translate(-0.8,-0.8)"/>
<path d="M258.0,1027.0C255.8,1030.8 248.5,1041.7 245.0,1050.0C241.5,1058.3 239.5,1067.8 237.0,1077.0C234.5,1086.2 232.3,1094.8 230.0,1105.0C227.7,1115.2 225.0,1126.8 223.0,1138.0C221.0,1149.2 220.2,1160.8 218.0,1172.0C215.8,1183.2 211.3,1199.5 210.0,1205.0" fill="none" stroke-linecap="butt" stroke-linejoin="miter" stroke-miterlimit="3" stroke="#f4f5f7" stroke-width="5.8" filter="url(#blur1)" transform="translate(-1.6,-1.6)"/>
<path d="M844.0,758.0C844.7,753.8 849.7,754.5 854.0,755.0C858.3,755.5 864.2,756.7 870.0,761.0C875.8,765.3 881.7,772.2 889.0,781.0C896.3,789.8 905.7,802.2 914.0,814.0C922.3,825.8 931.7,839.5 939.0,852.0C946.3,864.5 953.8,880.3 958.0,889.0C962.2,897.7 963.5,899.0 964.0,904.0C964.5,909.0 963.2,914.7 961.0,919.0C958.8,923.3 956.8,926.8 951.0,930.0C945.2,933.2 933.2,936.5 926.0,938.0C918.8,939.5 912.3,939.7 908.0,939.0C903.7,938.3 902.2,937.2 900.0,934.0C897.8,930.8 897.5,929.0 895.0,920.0C892.5,911.0 890.0,896.7 885.0,880.0C880.0,863.3 870.8,836.7 865.0,820.0C859.2,803.3 853.5,790.3 850.0,780.0C846.5,769.7 843.3,762.2 844.0,758.0Z" fill="url(#gR3)" stroke="#a9b1bb" stroke-width="1.5"/>
<path d="M862.0,772.0C863.7,768.8 868.3,771.3 872.0,776.0C875.7,780.7 880.0,790.2 884.0,800.0C888.0,809.8 893.3,823.3 896.0,835.0C898.7,846.7 900.5,862.5 900.0,870.0C899.5,877.5 895.8,881.7 893.0,880.0C890.2,878.3 886.5,869.2 883.0,860.0C879.5,850.8 875.5,835.8 872.0,825.0C868.5,814.2 863.7,803.8 862.0,795.0C860.3,786.2 860.3,775.2 862.0,772.0Z" fill="#b9c0c9" />
<path d="M868.0,785.0C870.0,790.0 876.3,804.2 880.0,815.0C883.7,825.8 888.3,844.2 890.0,850.0" stroke="#e9ecef" stroke-width="6" fill="none" stroke-linecap="round" filter="url(#blur1)"/>
<path d="M829.0,772.0C829.7,777.0 841.2,787.8 846.0,796.0C850.8,804.2 854.0,813.2 858.0,821.0C862.0,828.8 865.8,835.8 870.0,843.0C874.2,850.2 879.7,858.0 883.0,864.0C886.3,870.0 889.0,874.2 890.0,879.0C891.0,883.8 890.7,889.5 889.0,893.0C887.3,896.5 879.3,894.7 880.0,900.0C880.7,905.3 889.7,919.3 893.0,925.0C896.3,930.7 899.3,935.7 900.0,934.0C900.7,932.3 899.0,924.0 897.0,915.0C895.0,906.0 892.2,893.3 888.0,880.0C883.8,866.7 877.5,850.0 872.0,835.0C866.5,820.0 860.0,801.5 855.0,790.0C850.0,778.5 846.3,769.0 842.0,766.0C837.7,763.0 828.3,767.0 829.0,772.0Z" fill="#dde0e5" />
<path d="M769.0,872.0C773.0,865.0 788.2,865.3 800.0,868.0C811.8,870.7 826.7,882.7 840.0,888.0C853.3,893.3 872.0,897.2 880.0,900.0C888.0,902.8 889.2,901.7 888.0,905.0C886.8,908.3 880.2,914.8 873.0,920.0C865.8,925.2 854.3,932.8 845.0,936.0C835.7,939.2 826.2,940.2 817.0,939.0C807.8,937.8 796.8,933.8 790.0,929.0C783.2,924.2 779.5,919.5 776.0,910.0C772.5,900.5 765.0,879.0 769.0,872.0Z" fill="url(#gWS)" />
<path d="M668.0,835.0C668.0,831.0 679.7,824.2 690.0,822.0C700.3,819.8 718.0,819.8 730.0,822.0C742.0,824.2 755.3,828.7 762.0,835.0C768.7,841.3 770.0,849.2 770.0,860.0C770.0,870.8 765.7,889.2 762.0,900.0C758.3,910.8 751.3,924.2 748.0,925.0C744.7,925.8 742.0,913.8 742.0,905.0C742.0,896.2 748.0,881.2 748.0,872.0C748.0,862.8 746.7,855.3 742.0,850.0C737.3,844.7 728.7,840.7 720.0,840.0C711.3,839.3 698.7,846.8 690.0,846.0C681.3,845.2 668.0,839.0 668.0,835.0Z" fill="url(#gWR1)" />
<path d="M688.0,930.0C689.2,927.5 698.0,945.8 705.0,950.0C712.0,954.2 722.2,955.8 730.0,955.0C737.8,954.2 746.0,950.8 752.0,945.0C758.0,939.2 762.3,922.5 766.0,920.0C769.7,917.5 773.3,925.0 774.0,930.0C774.7,935.0 774.8,941.3 770.0,950.0C765.2,958.7 754.2,975.3 745.0,982.0C735.8,988.7 722.8,992.8 715.0,990.0C707.2,987.2 702.5,975.0 698.0,965.0C693.5,955.0 686.8,932.5 688.0,930.0Z" fill="#d5d9df" />
<path d="M795.0,792.0C799.2,787.3 804.7,786.3 810.0,786.0C815.3,785.7 822.2,786.8 827.0,790.0C831.8,793.2 835.3,798.8 839.0,805.0C842.7,811.2 845.7,820.2 849.0,827.0C852.3,833.8 855.7,839.8 859.0,846.0C862.3,852.2 866.5,858.7 869.0,864.0C871.5,869.3 874.0,875.0 874.0,878.0C874.0,881.0 872.7,883.0 869.0,882.0C865.3,881.0 859.0,876.3 852.0,872.0C845.0,867.7 835.3,861.0 827.0,856.0C818.7,851.0 808.7,846.2 802.0,842.0C795.3,837.8 789.8,835.7 787.0,831.0C784.2,826.3 783.7,820.5 785.0,814.0C786.3,807.5 790.8,796.7 795.0,792.0Z" fill="url(#gR2in)" />
<path d="M800,805 L835,818 M812,828 L850,843 M835,850 L863,866" stroke="#e6e9ed" stroke-width="8" stroke-linecap="round" opacity="0.75" filter="url(#blur1)"/>
<path d="M771.0,872.0C770.5,867.5 767.3,855.0 768.0,845.0C768.7,835.0 772.0,821.5 775.0,812.0C778.0,802.5 780.3,794.2 786.0,788.0C791.7,781.8 802.0,776.2 809.0,775.0C816.0,773.8 822.3,776.8 828.0,781.0C833.7,785.2 838.7,793.0 843.0,800.0C847.3,807.0 850.2,815.7 854.0,823.0C857.8,830.3 861.7,837.2 865.5,844.0C869.3,850.8 873.7,858.2 876.6,864.0C879.5,869.8 882.2,874.7 883.0,879.0C883.8,883.3 883.1,887.7 881.6,890.0C880.1,892.3 875.3,892.5 874.0,893.0" fill="none" stroke-linecap="butt" stroke-linejoin="miter" stroke-miterlimit="3" stroke="#a4acb6" stroke-width="14.5"/>
<path d="M771.0,872.0C770.5,867.5 767.3,855.0 768.0,845.0C768.7,835.0 772.0,821.5 775.0,812.0C778.0,802.5 780.3,794.2 786.0,788.0C791.7,781.8 802.0,776.2 809.0,775.0C816.0,773.8 822.3,776.8 828.0,781.0C833.7,785.2 838.7,793.0 843.0,800.0C847.3,807.0 850.2,815.7 854.0,823.0C857.8,830.3 861.7,837.2 865.5,844.0C869.3,850.8 873.7,858.2 876.6,864.0C879.5,869.8 882.2,874.7 883.0,879.0C883.8,883.3 883.1,887.7 881.6,890.0C880.1,892.3 875.3,892.5 874.0,893.0" fill="none" stroke-linecap="butt" stroke-linejoin="miter" stroke-miterlimit="3" stroke="#c6ccd3" stroke-width="12.7"/>
<path d="M771.0,872.0C770.5,867.5 767.3,855.0 768.0,845.0C768.7,835.0 772.0,821.5 775.0,812.0C778.0,802.5 780.3,794.2 786.0,788.0C791.7,781.8 802.0,776.2 809.0,775.0C816.0,773.8 822.3,776.8 828.0,781.0C833.7,785.2 838.7,793.0 843.0,800.0C847.3,807.0 850.2,815.7 854.0,823.0C857.8,830.3 861.7,837.2 865.5,844.0C869.3,850.8 873.7,858.2 876.6,864.0C879.5,869.8 882.2,874.7 883.0,879.0C883.8,883.3 883.1,887.7 881.6,890.0C880.1,892.3 875.3,892.5 874.0,893.0" fill="none" stroke-linecap="butt" stroke-linejoin="miter" stroke-miterlimit="3" stroke="#e1e4e8" stroke-width="9.5" transform="translate(-0.8,-0.8)"/>
<path d="M771.0,872.0C770.5,867.5 767.3,855.0 768.0,845.0C768.7,835.0 772.0,821.5 775.0,812.0C778.0,802.5 780.3,794.2 786.0,788.0C791.7,781.8 802.0,776.2 809.0,775.0C816.0,773.8 822.3,776.8 828.0,781.0C833.7,785.2 838.7,793.0 843.0,800.0C847.3,807.0 850.2,815.7 854.0,823.0C857.8,830.3 861.7,837.2 865.5,844.0C869.3,850.8 873.7,858.2 876.6,864.0C879.5,869.8 882.2,874.7 883.0,879.0C883.8,883.3 883.1,887.7 881.6,890.0C880.1,892.3 875.3,892.5 874.0,893.0" fill="none" stroke-linecap="butt" stroke-linejoin="miter" stroke-miterlimit="3" stroke="#f4f5f7" stroke-width="5.2" filter="url(#blur1)" transform="translate(-1.6,-1.6)"/>
<path d="M680.0,884.4C678.8,887.0 672.3,894.1 673.0,900.0C673.7,905.9 679.2,913.8 684.0,920.0C688.8,926.2 695.2,933.3 701.5,937.5C707.8,941.7 715.5,944.4 722.0,945.0C728.5,945.6 735.3,944.3 740.6,941.2C745.9,938.1 750.3,932.5 753.7,926.3C757.1,920.1 758.8,911.5 761.0,904.0C763.2,896.5 765.4,887.2 766.7,881.6C768.0,876.0 768.3,872.3 768.6,870.4" fill="none" stroke-linecap="butt" stroke-linejoin="miter" stroke-miterlimit="3" stroke="#a4acb6" stroke-width="17"/>
<path d="M680.0,884.4C678.8,887.0 672.3,894.1 673.0,900.0C673.7,905.9 679.2,913.8 684.0,920.0C688.8,926.2 695.2,933.3 701.5,937.5C707.8,941.7 715.5,944.4 722.0,945.0C728.5,945.6 735.3,944.3 740.6,941.2C745.9,938.1 750.3,932.5 753.7,926.3C757.1,920.1 758.8,911.5 761.0,904.0C763.2,896.5 765.4,887.2 766.7,881.6C768.0,876.0 768.3,872.3 768.6,870.4" fill="none" stroke-linecap="butt" stroke-linejoin="miter" stroke-miterlimit="3" stroke="#c6ccd3" stroke-width="15.2"/>
<path d="M680.0,884.4C678.8,887.0 672.3,894.1 673.0,900.0C673.7,905.9 679.2,913.8 684.0,920.0C688.8,926.2 695.2,933.3 701.5,937.5C707.8,941.7 715.5,944.4 722.0,945.0C728.5,945.6 735.3,944.3 740.6,941.2C745.9,938.1 750.3,932.5 753.7,926.3C757.1,920.1 758.8,911.5 761.0,904.0C763.2,896.5 765.4,887.2 766.7,881.6C768.0,876.0 768.3,872.3 768.6,870.4" fill="none" stroke-linecap="butt" stroke-linejoin="miter" stroke-miterlimit="3" stroke="#e1e4e8" stroke-width="12" transform="translate(-0.8,-0.8)"/>
<path d="M680.0,884.4C678.8,887.0 672.3,894.1 673.0,900.0C673.7,905.9 679.2,913.8 684.0,920.0C688.8,926.2 695.2,933.3 701.5,937.5C707.8,941.7 715.5,944.4 722.0,945.0C728.5,945.6 735.3,944.3 740.6,941.2C745.9,938.1 750.3,932.5 753.7,926.3C757.1,920.1 758.8,911.5 761.0,904.0C763.2,896.5 765.4,887.2 766.7,881.6C768.0,876.0 768.3,872.3 768.6,870.4" fill="none" stroke-linecap="butt" stroke-linejoin="miter" stroke-miterlimit="3" stroke="#f4f5f7" stroke-width="6.1" filter="url(#blur1)" transform="translate(-1.6,-1.6)"/>
<path d="M680.0,884.4C677.0,881.8 666.7,874.6 662.0,869.0C657.3,863.4 654.2,857.7 652.0,851.0C649.8,844.3 648.2,835.1 649.0,829.0C649.8,822.9 652.9,818.2 657.0,814.5C661.1,810.8 666.4,808.2 673.5,807.0C680.6,805.8 690.3,806.2 699.6,807.0C708.9,807.8 719.5,809.2 729.4,811.7C739.3,814.2 749.3,817.8 759.2,822.0C769.1,826.2 779.4,832.0 789.0,837.0C798.6,842.0 807.7,846.5 817.0,851.8C826.3,857.1 836.6,863.3 845.0,868.6C853.4,873.9 861.4,878.9 867.3,883.5C873.2,888.1 878.6,893.1 880.4,896.5C882.2,899.9 878.4,902.8 878.0,904.0" fill="none" stroke-linecap="butt" stroke-linejoin="miter" stroke-miterlimit="3" stroke="#a4acb6" stroke-width="17"/>
<path d="M680.0,884.4C677.0,881.8 666.7,874.6 662.0,869.0C657.3,863.4 654.2,857.7 652.0,851.0C649.8,844.3 648.2,835.1 649.0,829.0C649.8,822.9 652.9,818.2 657.0,814.5C661.1,810.8 666.4,808.2 673.5,807.0C680.6,805.8 690.3,806.2 699.6,807.0C708.9,807.8 719.5,809.2 729.4,811.7C739.3,814.2 749.3,817.8 759.2,822.0C769.1,826.2 779.4,832.0 789.0,837.0C798.6,842.0 807.7,846.5 817.0,851.8C826.3,857.1 836.6,863.3 845.0,868.6C853.4,873.9 861.4,878.9 867.3,883.5C873.2,888.1 878.6,893.1 880.4,896.5C882.2,899.9 878.4,902.8 878.0,904.0" fill="none" stroke-linecap="butt" stroke-linejoin="miter" stroke-miterlimit="3" stroke="#c6ccd3" stroke-width="15.2"/>
<path d="M680.0,884.4C677.0,881.8 666.7,874.6 662.0,869.0C657.3,863.4 654.2,857.7 652.0,851.0C649.8,844.3 648.2,835.1 649.0,829.0C649.8,822.9 652.9,818.2 657.0,814.5C661.1,810.8 666.4,808.2 673.5,807.0C680.6,805.8 690.3,806.2 699.6,807.0C708.9,807.8 719.5,809.2 729.4,811.7C739.3,814.2 749.3,817.8 759.2,822.0C769.1,826.2 779.4,832.0 789.0,837.0C798.6,842.0 807.7,846.5 817.0,851.8C826.3,857.1 836.6,863.3 845.0,868.6C853.4,873.9 861.4,878.9 867.3,883.5C873.2,888.1 878.6,893.1 880.4,896.5C882.2,899.9 878.4,902.8 878.0,904.0" fill="none" stroke-linecap="butt" stroke-linejoin="miter" stroke-miterlimit="3" stroke="#e1e4e8" stroke-width="12" transform="translate(-0.8,-0.8)"/>
<path d="M680.0,884.4C677.0,881.8 666.7,874.6 662.0,869.0C657.3,863.4 654.2,857.7 652.0,851.0C649.8,844.3 648.2,835.1 649.0,829.0C649.8,822.9 652.9,818.2 657.0,814.5C661.1,810.8 666.4,808.2 673.5,807.0C680.6,805.8 690.3,806.2 699.6,807.0C708.9,807.8 719.5,809.2 729.4,811.7C739.3,814.2 749.3,817.8 759.2,822.0C769.1,826.2 779.4,832.0 789.0,837.0C798.6,842.0 807.7,846.5 817.0,851.8C826.3,857.1 836.6,863.3 845.0,868.6C853.4,873.9 861.4,878.9 867.3,883.5C873.2,888.1 878.6,893.1 880.4,896.5C882.2,899.9 878.4,902.8 878.0,904.0" fill="none" stroke-linecap="butt" stroke-linejoin="miter" stroke-miterlimit="3" stroke="#f4f5f7" stroke-width="6.1" filter="url(#blur1)" transform="translate(-1.6,-1.6)"/>
<path d="M503.8,792.2 L515.1,787.6 L527.1,784.7 L539.5,783.8 L551.8,784.7 L563.9,787.5 L575.4,792.1 L586.0,798.4 L595.5,806.3 L603.7,815.5 L610.3,825.8 L695.4,985.1 L698.7,992.8 L700.8,1000.9 L701.6,1009.3 L701.0,1017.6 L699.2,1025.7 L696.0,1033.5 L691.6,1040.6 L686.2,1047.0 L679.7,1052.4 L672.5,1056.8 L489.9,1148.7 L482.2,1151.9 L474.1,1153.8 L465.7,1154.4 L457.4,1153.8 L449.2,1151.9 L441.4,1148.8 L434.3,1144.5 L427.8,1139.2 L422.3,1133.0 L417.8,1126.0 L324.0,950.3 L320.2,941.6 L317.8,932.5 L317.0,923.1 L317.6,913.8 L319.7,904.7 L323.3,896.0 L328.2,888.0 L334.3,880.8 L341.5,874.7 L349.6,869.8Z" fill="#c6ccd3"/>
<path d="M502.8,785.2 L514.1,780.6 L526.1,777.7 L538.5,776.8 L550.8,777.7 L562.9,780.5 L574.4,785.1 L585.0,791.4 L594.5,799.3 L602.7,808.5 L609.3,818.8 L694.4,978.1 L697.7,985.8 L699.8,993.9 L700.6,1002.3 L700.0,1010.6 L698.2,1018.7 L695.0,1026.5 L690.6,1033.6 L685.2,1040.0 L678.7,1045.4 L671.5,1049.8 L488.9,1141.7 L481.2,1144.9 L473.1,1146.8 L464.7,1147.4 L456.4,1146.8 L448.2,1144.9 L440.4,1141.8 L433.3,1137.5 L426.8,1132.2 L421.3,1126.0 L416.8,1119.0 L323.0,943.3 L319.2,934.6 L316.8,925.5 L316.0,916.1 L316.6,906.8 L318.7,897.7 L322.3,889.0 L327.2,881.0 L333.3,873.8 L340.5,867.7 L348.6,862.8Z" fill="url(#gHaloO)" stroke="#a9b1bb" stroke-width="1.6"/>
<path d="M506.6,790.0 L516.9,785.8 L527.8,783.2 L539.0,782.3 L550.2,783.2 L561.2,785.7 L571.7,789.9 L581.3,795.7 L590.0,802.8 L597.4,811.2 L603.4,820.5 L688.5,979.8 L691.5,986.8 L693.4,994.2 L694.2,1001.8 L693.6,1009.4 L691.9,1016.8 L689.1,1023.8 L685.1,1030.3 L680.1,1036.1 L674.3,1041.0 L667.7,1045.0 L487.1,1135.9 L480.1,1138.8 L472.7,1140.5 L465.2,1141.1 L457.6,1140.5 L450.2,1138.8 L443.1,1136.0 L436.6,1132.1 L430.7,1127.3 L425.7,1121.6 L421.6,1115.3 L328.6,941.0 L325.1,933.1 L323.0,924.9 L322.2,916.3 L322.8,907.8 L324.7,899.5 L327.9,891.7 L332.4,884.4 L338.0,877.9 L344.5,872.3 L351.9,867.9Z" fill="none" stroke="#f5f6f8" stroke-width="3.5"/>
<path d="M507.4,790.7 L517.5,786.6 L528.2,784.0 L539.2,783.2 L550.2,784.0 L561.0,786.5 L571.2,790.6 L580.7,796.2 L589.2,803.2 L596.4,811.4 L602.3,820.6 L687.6,980.3 L690.6,987.1 L692.4,994.4 L693.1,1001.8 L692.6,1009.2 L691.0,1016.5 L688.1,1023.4 L684.2,1029.7 L679.4,1035.4 L673.6,1040.2 L667.2,1044.1 L486.7,1135.0 L479.8,1137.8 L472.6,1139.5 L465.2,1140.1 L457.7,1139.5 L450.5,1137.8 L443.5,1135.1 L437.1,1131.3 L431.4,1126.5 L426.5,1121.0 L422.5,1114.8 L329.4,940.5 L326.1,932.8 L324.0,924.6 L323.2,916.3 L323.7,908.0 L325.6,899.8 L328.8,892.1 L333.2,885.0 L338.6,878.6 L345.1,873.2 L352.3,868.8Z" fill="none" stroke="#c3c9d0" stroke-width="1.2"/>
<path d="M511.2,795.5 L520.3,791.8 L529.9,789.5 L539.8,788.7 L549.7,789.5 L559.3,791.7 L568.5,795.4 L577.0,800.5 L584.6,806.7 L591.2,814.1 L596.4,822.4 L681.7,982.0 L684.4,988.2 L686.1,994.7 L686.7,1001.3 L686.2,1008.0 L684.7,1014.5 L682.2,1020.7 L678.7,1026.4 L674.3,1031.5 L669.2,1035.8 L663.4,1039.3 L484.9,1129.2 L478.8,1131.7 L472.3,1133.2 L465.6,1133.8 L458.9,1133.3 L452.4,1131.7 L446.2,1129.2 L440.4,1125.8 L435.3,1121.6 L430.9,1116.6 L427.3,1111.0 L335.0,938.2 L332.0,931.3 L330.1,924.0 L329.4,916.5 L329.9,909.0 L331.6,901.7 L334.5,894.8 L338.4,888.4 L343.3,882.7 L349.1,877.8 L355.5,873.9Z" fill="#f0f3f5" stroke="#a4acb6" stroke-width="1.6"/>
<g opacity="0.85"><path d="M411.1,890.2 L417.7,890.9 L415.6,895.0Z" fill="#c5d0d5"/><path d="M586.4,1054.1 L580.9,1050.8 L584.1,1048.2Z" fill="#dbe3e6"/><path d="M392.6,986.5 L394.3,992.4 L391.0,992.4Z" fill="#b9c6cc"/><path d="M464.8,836.2 L470.5,834.9 L470.3,838.2Z" fill="#e3eaec"/><path d="M574.4,860.6 L568.1,859.8 L569.6,856.5Z" fill="#ffffff"/><path d="M494.8,834.3 L500.9,832.8 L501.0,835.6Z" fill="#b9c6cc"/><path d="M341.9,908.5 L333.7,902.9 L336.8,900.1Z" fill="#c5d0d5"/><path d="M554.3,1074.4 L554.2,1067.7 L557.3,1068.4Z" fill="#ffffff"/><path d="M560.8,1044.6 L568.1,1049.4 L562.9,1053.0Z" fill="#cfd9dd"/><path d="M519.8,1095.4 L524.7,1085.9 L527.0,1087.4Z" fill="#e3eaec"/><path d="M577.1,1051.3 L573.8,1041.7 L578.7,1041.3Z" fill="#e3eaec"/><path d="M530.2,811.4 L522.4,813.2 L523.0,808.0Z" fill="#cfd9dd"/><path d="M413.3,1060.7 L425.5,1063.4 L423.0,1068.5Z" fill="#c5d0d5"/><path d="M613.3,1037.2 L612.8,1026.1 L616.6,1026.6Z" fill="#e3eaec"/><path d="M348.3,891.1 L352.1,896.1 L348.9,897.2Z" fill="#ffffff"/><path d="M618.3,906.9 L610.8,904.2 L612.7,901.3Z" fill="#dbe3e6"/><path d="M639.5,1014.9 L635.3,1008.0 L639.0,1006.9Z" fill="#ffffff"/><path d="M581.1,814.1 L574.7,811.5 L576.6,808.9Z" fill="#ffffff"/><path d="M550.0,839.7 L545.9,834.1 L550.4,832.9Z" fill="#e3eaec"/><path d="M579.7,1059.1 L588.1,1063.1 L584.9,1066.7Z" fill="#b9c6cc"/><path d="M656.7,1019.9 L665.0,1023.7 L662.5,1026.8Z" fill="#ffffff"/><path d="M428.6,1042.2 L423.2,1044.3 L422.9,1041.0Z" fill="#dbe3e6"/><path d="M428.7,1034.5 L419.3,1035.2 L420.0,1030.7Z" fill="#c5d0d5"/><path d="M482.4,839.3 L475.0,835.0 L478.7,831.7Z" fill="#c5d0d5"/><path d="M413.1,1000.2 L407.5,1006.4 L405.3,1003.4Z" fill="#dbe3e6"/><path d="M388.0,977.3 L382.7,968.6 L385.5,967.5Z" fill="#cfd9dd"/><path d="M491.2,1117.6 L490.5,1106.9 L496.5,1108.3Z" fill="#ffffff"/><path d="M580.7,1067.2 L580.2,1076.7 L576.8,1075.8Z" fill="#c5d0d5"/><path d="M596.1,874.7 L588.9,869.0 L592.5,866.4Z" fill="#b9c6cc"/><path d="M677.1,975.9 L681.2,986.3 L675.8,986.9Z" fill="#dbe3e6"/><path d="M630.4,1045.2 L633.9,1052.6 L630.7,1053.3Z" fill="#e3eaec"/><path d="M622.7,878.4 L617.3,889.6 L612.4,885.6Z" fill="#c5d0d5"/><path d="M341.8,914.8 L346.5,908.4 L349.2,911.8Z" fill="#e3eaec"/><path d="M427.3,1044.2 L424.4,1054.7 L419.6,1051.9Z" fill="#ffffff"/><path d="M593.1,889.5 L600.6,889.2 L598.3,894.9Z" fill="#b9c6cc"/><path d="M655.3,959.9 L649.5,957.9 L651.2,955.4Z" fill="#ffffff"/><path d="M537.5,819.3 L540.1,831.0 L534.9,830.9Z" fill="#c5d0d5"/><path d="M422.8,1091.1 L429.0,1094.8 L424.5,1097.9Z" fill="#dbe3e6"/><path d="M540.4,1055.0 L542.1,1061.4 L538.7,1061.4Z" fill="#c5d0d5"/><path d="M528.1,796.1 L536.2,804.3 L531.8,806.9Z" fill="#ffffff"/><path d="M603.2,880.1 L600.5,888.5 L596.6,886.0Z" fill="#e3eaec"/><path d="M557.7,1043.4 L563.4,1051.7 L558.1,1053.3Z" fill="#dbe3e6"/><path d="M417.6,1028.5 L411.5,1023.0 L416.4,1020.5Z" fill="#e3eaec"/><path d="M433.1,840.7 L432.4,846.7 L429.0,845.1Z" fill="#e3eaec"/><path d="M666.0,1010.0 L661.3,1019.5 L658.6,1017.6Z" fill="#ffffff"/><path d="M360.7,912.0 L363.2,906.7 L365.7,909.0Z" fill="#cfd9dd"/><path d="M453.4,1070.3 L448.8,1078.5 L445.8,1075.9Z" fill="#c5d0d5"/><path d="M673.9,1034.3 L665.2,1026.9 L668.4,1024.4Z" fill="#ffffff"/><path d="M384.7,982.9 L382.6,974.1 L387.9,974.6Z" fill="#ffffff"/><path d="M458.9,841.5 L451.3,850.0 L447.8,844.7Z" fill="#cfd9dd"/><path d="M372.8,949.1 L371.9,956.6 L367.0,953.9Z" fill="#ffffff"/><path d="M542.5,1066.2 L544.4,1072.7 L541.3,1072.8Z" fill="#e3eaec"/><path d="M337.8,894.5 L344.5,898.3 L342.7,900.3Z" fill="#cfd9dd"/><path d="M458.4,1100.6 L447.7,1103.3 L447.4,1099.1Z" fill="#c5d0d5"/><path d="M637.5,933.6 L627.8,938.7 L626.5,932.7Z" fill="#dbe3e6"/><path d="M629.5,936.3 L635.5,932.4 L636.7,936.4Z" fill="#b9c6cc"/><path d="M358.5,953.5 L350.0,959.3 L348.2,955.0Z" fill="#dbe3e6"/><path d="M575.9,1046.5 L571.3,1052.1 L569.3,1049.5Z" fill="#dbe3e6"/><path d="M352.2,921.2 L342.4,923.2 L342.3,919.8Z" fill="#dbe3e6"/><path d="M413.8,1063.1 L413.9,1053.3 L419.9,1055.5Z" fill="#e3eaec"/><path d="M446.8,880.5 L449.8,872.7 L454.5,877.0Z" fill="#e3eaec"/><path d="M401.2,857.9 L400.5,864.5 L397.5,863.4Z" fill="#c5d0d5"/><path d="M389.8,888.2 L391.0,883.1 L393.2,884.2Z" fill="#c5d0d5"/><path d="M490.8,830.1 L484.3,838.1 L482.2,835.8Z" fill="#b9c6cc"/><path d="M489.3,844.6 L491.7,854.5 L487.2,854.5Z" fill="#ffffff"/><path d="M410.3,1013.9 L419.0,1006.6 L421.6,1011.7Z" fill="#ffffff"/><path d="M618.3,1044.0 L623.8,1045.1 L622.8,1047.4Z" fill="#b9c6cc"/><path d="M418.7,868.6 L420.7,877.8 L415.7,877.5Z" fill="#b9c6cc"/><path d="M457.9,1118.1 L457.3,1124.6 L453.1,1122.6Z" fill="#b9c6cc"/><path d="M364.0,948.9 L370.5,953.2 L366.0,956.3Z" fill="#ffffff"/><path d="M491.5,835.2 L483.5,834.3 L485.9,829.5Z" fill="#c5d0d5"/><path d="M482.8,853.4 L488.7,845.8 L492.3,851.0Z" fill="#cfd9dd"/><path d="M470.2,1113.0 L459.2,1106.7 L463.6,1102.4Z" fill="#cfd9dd"/><path d="M387.3,881.9 L397.1,873.9 L399.9,879.7Z" fill="#ffffff"/><path d="M498.3,1113.1 L491.4,1107.7 L493.7,1105.7Z" fill="#e3eaec"/><path d="M397.0,894.9 L396.3,885.4 L402.2,886.9Z" fill="#ffffff"/><path d="M407.6,898.2 L405.5,890.0 L411.3,890.7Z" fill="#cfd9dd"/><path d="M543.6,1084.7 L537.2,1082.5 L540.9,1078.6Z" fill="#c5d0d5"/><path d="M397.9,874.0 L387.3,874.1 L387.9,870.6Z" fill="#dbe3e6"/><path d="M539.5,1081.1 L538.1,1091.8 L533.4,1090.0Z" fill="#e3eaec"/><path d="M417.6,1080.2 L423.2,1071.2 L426.8,1074.7Z" fill="#c5d0d5"/><path d="M554.0,1064.4 L560.1,1061.4 L560.8,1065.4Z" fill="#c5d0d5"/><path d="M591.0,833.3 L598.8,834.9 L596.5,839.0Z" fill="#ffffff"/><path d="M436.6,1042.7 L427.5,1045.5 L427.4,1039.9Z" fill="#e3eaec"/><path d="M496.5,1093.2 L490.4,1098.1 L488.9,1095.5Z" fill="#dbe3e6"/><path d="M368.2,868.8 L368.6,877.4 L363.3,875.9Z" fill="#dbe3e6"/><path d="M369.2,954.8 L365.7,960.5 L362.8,957.0Z" fill="#b9c6cc"/><path d="M454.0,1117.5 L455.4,1108.1 L459.4,1109.6Z" fill="#c5d0d5"/><path d="M650.2,1005.9 L645.3,1010.3 L643.5,1005.4Z" fill="#ffffff"/><path d="M661.6,975.7 L661.3,986.8 L657.9,986.2Z" fill="#cfd9dd"/><path d="M393.5,902.6 L389.9,908.9 L386.4,904.3Z" fill="#b9c6cc"/><path d="M433.3,1096.0 L424.7,1088.0 L429.0,1085.3Z" fill="#c5d0d5"/><path d="M635.6,932.3 L643.1,927.2 L644.8,932.4Z" fill="#cfd9dd"/><path d="M394.6,1018.8 L402.2,1017.5 L402.1,1020.8Z" fill="#e3eaec"/><path d="M451.5,839.6 L454.9,831.4 L457.2,832.7Z" fill="#dbe3e6"/><path d="M609.6,1047.1 L604.7,1043.7 L607.8,1041.5Z" fill="#ffffff"/><path d="M532.1,806.7 L537.1,800.9 L539.8,805.7Z" fill="#dbe3e6"/><path d="M625.8,902.2 L619.2,899.3 L621.9,896.2Z" fill="#b9c6cc"/><path d="M409.3,1035.1 L407.4,1040.1 L405.3,1038.7Z" fill="#e3eaec"/><path d="M361.8,889.9 L353.5,893.7 L352.9,887.7Z" fill="#c5d0d5"/><path d="M601.6,865.4 L590.8,860.1 L594.2,856.0Z" fill="#cfd9dd"/><path d="M655.8,1040.2 L658.6,1035.1 L660.6,1037.0Z" fill="#cfd9dd"/><path d="M540.2,1094.8 L529.1,1093.1 L530.0,1090.0Z" fill="#c5d0d5"/><path d="M525.3,811.0 L531.8,814.3 L528.4,817.5Z" fill="#ffffff"/><path d="M540.4,795.8 L543.5,785.1 L548.3,787.9Z" fill="#cfd9dd"/><path d="M528.6,811.2 L522.3,808.8 L525.7,805.3Z" fill="#c5d0d5"/><path d="M505.4,1101.2 L513.4,1100.5 L512.1,1105.6Z" fill="#c5d0d5"/><path d="M583.2,846.3 L591.4,852.1 L586.9,855.5Z" fill="#cfd9dd"/><path d="M342.1,957.2 L350.0,947.7 L353.8,952.8Z" fill="#ffffff"/><path d="M636.4,1020.3 L639.1,1026.5 L634.6,1026.8Z" fill="#cfd9dd"/><path d="M528.5,821.1 L520.1,815.6 L522.5,813.2Z" fill="#cfd9dd"/><path d="M443.0,867.4 L434.0,869.1 L433.9,865.9Z" fill="#ffffff"/><path d="M458.1,1099.6 L454.3,1091.5 L458.2,1090.7Z" fill="#b9c6cc"/><path d="M509.8,1091.6 L504.3,1089.2 L506.5,1086.7Z" fill="#dbe3e6"/><path d="M655.4,1017.5 L649.1,1020.4 L648.4,1017.6Z" fill="#dbe3e6"/><path d="M367.2,891.6 L372.6,886.8 L374.5,891.3Z" fill="#ffffff"/><path d="M645.5,1036.2 L635.8,1036.8 L636.7,1032.0Z" fill="#dbe3e6"/><path d="M377.6,974.8 L367.0,978.1 L366.5,975.6Z" fill="#b9c6cc"/><path d="M355.2,973.8 L361.5,976.2 L359.3,979.1Z" fill="#dbe3e6"/><path d="M381.7,1020.2 L387.3,1013.3 L390.5,1018.0Z" fill="#b9c6cc"/><path d="M352.8,920.9 L359.8,924.9 L357.3,927.4Z" fill="#c5d0d5"/><path d="M421.1,847.0 L428.2,855.3 L424.6,857.3Z" fill="#cfd9dd"/><path d="M531.1,1069.7 L534.7,1065.0 L536.4,1066.8Z" fill="#e3eaec"/><path d="M454.2,1087.7 L455.5,1077.7 L461.2,1080.4Z" fill="#b9c6cc"/><path d="M462.4,874.6 L456.9,866.4 L462.9,864.8Z" fill="#cfd9dd"/><path d="M447.1,1128.1 L443.8,1119.0 L448.9,1118.6Z" fill="#cfd9dd"/><path d="M626.3,931.4 L629.2,938.3 L623.5,938.4Z" fill="#dbe3e6"/><path d="M465.2,830.0 L462.5,836.0 L459.6,833.5Z" fill="#dbe3e6"/><path d="M537.9,791.6 L547.3,789.6 L547.5,792.1Z" fill="#ffffff"/><path d="M422.1,867.2 L420.9,858.7 L426.6,859.8Z" fill="#e3eaec"/><path d="M443.5,838.8 L450.6,838.8 L448.6,843.7Z" fill="#ffffff"/><path d="M502.3,815.1 L509.7,824.0 L505.2,826.2Z" fill="#ffffff"/><path d="M470.0,1090.7 L462.2,1098.1 L459.3,1093.1Z" fill="#dbe3e6"/><path d="M467.5,1111.0 L462.0,1101.1 L467.5,1099.8Z" fill="#b9c6cc"/><path d="M644.8,1029.2 L636.9,1032.4 L636.5,1027.0Z" fill="#dbe3e6"/><path d="M608.8,903.5 L601.8,894.3 L605.7,892.5Z" fill="#e3eaec"/><path d="M402.5,867.1 L394.8,865.0 L398.7,860.2Z" fill="#b9c6cc"/><path d="M516.5,799.9 L516.4,811.3 L512.2,810.4Z" fill="#e3eaec"/><path d="M589.0,1045.9 L576.9,1046.2 L577.7,1041.4Z" fill="#ffffff"/><path d="M354.5,940.9 L365.8,941.9 L364.9,945.4Z" fill="#e3eaec"/><path d="M637.0,914.3 L643.4,916.8 L642.2,918.9Z" fill="#cfd9dd"/><path d="M404.9,864.9 L411.6,859.4 L413.0,861.6Z" fill="#cfd9dd"/><path d="M392.1,978.2 L384.6,972.2 L388.4,969.4Z" fill="#dbe3e6"/><path d="M353.3,870.8 L357.0,880.0 L352.7,880.7Z" fill="#cfd9dd"/><path d="M590.6,1027.7 L594.5,1034.6 L591.1,1035.5Z" fill="#cfd9dd"/><path d="M440.4,1088.9 L438.8,1098.3 L434.4,1096.3Z" fill="#e3eaec"/><path d="M654.5,968.9 L648.4,960.5 L650.7,959.3Z" fill="#e3eaec"/><path d="M352.1,944.0 L342.1,940.0 L343.5,937.6Z" fill="#e3eaec"/><path d="M584.4,1064.7 L576.9,1064.1 L578.9,1059.7Z" fill="#e3eaec"/><path d="M420.3,1041.5 L412.7,1048.2 L410.5,1044.4Z" fill="#e3eaec"/><path d="M386.4,896.7 L381.7,893.1 L384.9,891.1Z" fill="#b9c6cc"/><path d="M676.9,1019.0 L672.1,1014.4 L676.8,1012.5Z" fill="#b9c6cc"/><path d="M612.0,1064.2 L604.5,1057.1 L606.4,1055.6Z" fill="#c5d0d5"/><path d="M659.8,995.7 L652.5,992.7 L656.9,988.5Z" fill="#dbe3e6"/><path d="M585.9,873.7 L577.8,865.5 L582.0,862.9Z" fill="#b9c6cc"/><path d="M669.2,983.9 L677.0,979.7 L678.1,984.1Z" fill="#cfd9dd"/><path d="M585.2,890.2 L592.0,896.1 L589.1,898.2Z" fill="#dbe3e6"/><path d="M330.9,918.2 L338.9,917.3 L337.1,923.3Z" fill="#b9c6cc"/><path d="M406.6,1044.9 L406.3,1033.6 L412.0,1035.0Z" fill="#b9c6cc"/><path d="M451.2,1098.2 L446.8,1108.0 L444.4,1106.5Z" fill="#dbe3e6"/><path d="M375.3,871.5 L369.2,881.4 L365.2,877.6Z" fill="#cfd9dd"/><path d="M407.5,885.2 L397.6,885.4 L398.0,882.2Z" fill="#c5d0d5"/><path d="M535.7,1084.1 L525.5,1088.9 L524.4,1082.9Z" fill="#ffffff"/><path d="M627.0,891.7 L627.0,900.3 L624.4,899.9Z" fill="#ffffff"/><path d="M397.0,1023.6 L389.1,1023.8 L389.4,1021.2Z" fill="#e3eaec"/><path d="M492.7,1086.5 L482.5,1087.0 L482.8,1084.0Z" fill="#cfd9dd"/><path d="M510.2,817.5 L508.4,810.8 L513.7,811.5Z" fill="#ffffff"/><path d="M507.4,1105.6 L502.9,1099.4 L508.0,1098.1Z" fill="#ffffff"/><path d="M478.6,1105.0 L485.0,1112.5 L479.0,1114.7Z" fill="#e3eaec"/><path d="M542.3,1070.5 L531.9,1071.1 L532.1,1068.6Z" fill="#dbe3e6"/><path d="M650.9,925.5 L648.3,931.8 L644.7,928.6Z" fill="#b9c6cc"/><path d="M458.2,1084.3 L467.4,1087.9 L465.8,1090.5Z" fill="#ffffff"/><path d="M652.1,952.2 L659.7,951.8 L659.1,955.1Z" fill="#dbe3e6"/><path d="M511.4,1101.3 L506.6,1106.7 L504.1,1102.3Z" fill="#dbe3e6"/><path d="M541.2,1086.7 L545.3,1095.9 L541.1,1096.7Z" fill="#dbe3e6"/><path d="M465.8,1120.6 L460.5,1110.9 L464.7,1109.7Z" fill="#cfd9dd"/><path d="M593.1,887.9 L603.1,885.7 L603.2,889.8Z" fill="#dbe3e6"/><path d="M617.0,944.9 L623.7,943.6 L623.5,946.8Z" fill="#cfd9dd"/><path d="M480.7,846.9 L484.4,836.7 L488.9,839.7Z" fill="#b9c6cc"/><path d="M463.3,1092.3 L466.9,1086.5 L470.2,1091.4Z" fill="#e3eaec"/><path d="M616.1,1048.9 L606.4,1044.8 L609.9,1040.6Z" fill="#ffffff"/><path d="M652.2,1019.4 L645.2,1019.7 L645.8,1016.5Z" fill="#b9c6cc"/><path d="M634.0,1034.5 L639.1,1030.1 L640.8,1034.5Z" fill="#e3eaec"/><path d="M421.7,1099.5 L421.2,1091.1 L426.5,1092.6Z" fill="#ffffff"/><path d="M475.5,1132.8 L474.7,1127.0 L478.2,1127.7Z" fill="#ffffff"/><path d="M342.2,900.3 L339.3,909.7 L334.9,906.9Z" fill="#e3eaec"/><path d="M622.9,1039.5 L629.1,1034.6 L630.8,1040.0Z" fill="#ffffff"/><path d="M557.4,788.8 L561.2,795.2 L556.2,796.0Z" fill="#b9c6cc"/><path d="M498.6,1117.7 L497.4,1107.6 L503.1,1108.5Z" fill="#ffffff"/><path d="M646.9,945.9 L654.4,937.6 L657.6,942.2Z" fill="#c5d0d5"/><path d="M530.6,1079.5 L532.4,1086.3 L526.7,1085.2Z" fill="#c5d0d5"/><path d="M531.2,822.8 L532.2,831.5 L529.7,831.4Z" fill="#cfd9dd"/><path d="M377.1,894.3 L372.7,885.7 L377.4,884.8Z" fill="#ffffff"/><path d="M425.3,882.1 L422.0,891.5 L419.2,890.0Z" fill="#b9c6cc"/><path d="M601.0,1027.0 L605.0,1036.4 L601.9,1037.2Z" fill="#b9c6cc"/><path d="M377.8,880.3 L378.6,889.3 L375.6,889.1Z" fill="#cfd9dd"/><path d="M421.1,1001.6 L413.4,1003.9 L413.0,1000.9Z" fill="#ffffff"/><path d="M523.8,820.2 L531.1,813.8 L532.7,816.3Z" fill="#dbe3e6"/><path d="M513.1,1076.4 L513.0,1067.7 L517.4,1068.8Z" fill="#ffffff"/><path d="M582.5,855.8 L581.8,849.3 L584.5,849.6Z" fill="#c5d0d5"/><path d="M647.7,930.1 L651.1,936.8 L647.5,937.6Z" fill="#c5d0d5"/><path d="M486.1,1125.7 L474.4,1126.8 L474.6,1122.8Z" fill="#e3eaec"/><path d="M617.3,918.9 L610.8,921.1 L610.4,918.7Z" fill="#dbe3e6"/><path d="M509.0,815.8 L515.9,810.2 L517.8,813.7Z" fill="#dbe3e6"/><path d="M371.0,926.4 L361.1,931.9 L359.6,926.0Z" fill="#b9c6cc"/><path d="M438.8,1116.4 L430.5,1115.8 L432.5,1111.0Z" fill="#ffffff"/><path d="M609.2,1048.2 L601.0,1050.6 L600.6,1048.0Z" fill="#cfd9dd"/><path d="M411.1,1057.6 L423.3,1056.5 L422.7,1061.5Z" fill="#dbe3e6"/><path d="M428.5,1049.0 L423.7,1045.4 L425.6,1043.8Z" fill="#cfd9dd"/><path d="M412.7,1058.7 L404.8,1065.5 L403.0,1062.7Z" fill="#cfd9dd"/><path d="M344.1,879.3 L350.9,883.5 L346.7,886.7Z" fill="#dbe3e6"/><path d="M592.8,862.6 L598.6,869.9 L596.0,871.3Z" fill="#ffffff"/><path d="M413.9,1038.6 L422.4,1043.2 L417.8,1047.3Z" fill="#c5d0d5"/><path d="M556.4,790.6 L550.9,795.2 L549.2,789.5Z" fill="#b9c6cc"/><path d="M532.1,819.2 L529.6,810.0 L532.7,809.7Z" fill="#ffffff"/><path d="M516.8,1089.2 L522.8,1094.7 L520.2,1096.5Z" fill="#ffffff"/><path d="M478.3,1126.2 L468.2,1122.6 L470.5,1118.9Z" fill="#ffffff"/><path d="M638.1,1026.4 L642.2,1034.2 L638.7,1035.1Z" fill="#cfd9dd"/><path d="M636.3,965.6 L630.9,970.8 L628.6,965.5Z" fill="#e3eaec"/><path d="M538.8,1072.6 L539.5,1062.6 L544.2,1064.1Z" fill="#dbe3e6"/><path d="M648.8,1013.3 L638.5,1018.3 L637.2,1012.8Z" fill="#ffffff"/><path d="M659.7,973.4 L669.5,969.5 L670.4,973.8Z" fill="#e3eaec"/><path d="M407.7,1019.5 L411.7,1026.0 L406.3,1027.0Z" fill="#dbe3e6"/><path d="M395.4,877.9 L397.0,867.2 L402.7,869.8Z" fill="#e3eaec"/><path d="M440.1,850.3 L443.1,859.8 L439.7,860.2Z" fill="#e3eaec"/><path d="M378.1,886.0 L381.5,893.0 L376.8,893.6Z" fill="#c5d0d5"/><path d="M361.8,884.9 L356.0,889.5 L354.6,887.0Z" fill="#b9c6cc"/><path d="M441.7,861.0 L439.5,855.7 L443.1,855.5Z" fill="#e3eaec"/><path d="M545.2,1071.8 L552.3,1081.1 L546.4,1083.3Z" fill="#c5d0d5"/><path d="M647.8,995.1 L659.5,997.2 L657.4,1002.0Z" fill="#cfd9dd"/><path d="M599.2,1051.5 L607.0,1054.1 L604.6,1057.6Z" fill="#dbe3e6"/><path d="M686.5,1011.8 L678.4,1013.9 L678.1,1011.4Z" fill="#cfd9dd"/><path d="M449.3,863.1 L447.4,858.1 L450.6,857.9Z" fill="#b9c6cc"/><path d="M519.7,830.5 L518.1,824.0 L521.1,824.0Z" fill="#ffffff"/><path d="M644.1,1016.8 L643.3,1026.2 L637.6,1023.8Z" fill="#ffffff"/><path d="M496.8,1094.3 L495.6,1104.6 L492.7,1103.9Z" fill="#ffffff"/><path d="M679.8,1010.4 L680.3,1005.2 L682.9,1006.2Z" fill="#c5d0d5"/><path d="M390.8,981.6 L389.6,972.0 L392.7,972.2Z" fill="#ffffff"/><path d="M474.3,855.9 L474.4,863.2 L470.4,862.0Z" fill="#dbe3e6"/><path d="M397.5,1045.2 L393.8,1035.7 L397.3,1035.0Z" fill="#cfd9dd"/><path d="M524.8,1085.3 L513.9,1084.0 L514.5,1081.4Z" fill="#ffffff"/><path d="M547.3,1094.8 L538.5,1100.9 L537.2,1098.4Z" fill="#c5d0d5"/><path d="M663.6,1039.3 L654.1,1037.3 L655.8,1033.5Z" fill="#e3eaec"/><path d="M426.1,883.4 L417.6,890.0 L415.5,886.0Z" fill="#dbe3e6"/><path d="M406.7,864.5 L408.7,857.9 L411.5,859.5Z" fill="#ffffff"/><path d="M337.4,906.1 L345.9,906.1 L345.2,909.5Z" fill="#dbe3e6"/><path d="M432.6,1045.6 L439.4,1046.0 L438.2,1049.4Z" fill="#cfd9dd"/><path d="M423.7,1079.4 L427.2,1070.8 L429.5,1072.1Z" fill="#ffffff"/><path d="M609.2,1053.1 L600.4,1055.0 L600.9,1049.6Z" fill="#dbe3e6"/><path d="M577.4,856.7 L568.0,851.6 L570.5,848.7Z" fill="#dbe3e6"/><path d="M585.0,867.9 L579.4,877.1 L577.3,875.5Z" fill="#c5d0d5"/><path d="M571.9,861.0 L579.5,865.4 L575.4,869.0Z" fill="#cfd9dd"/><path d="M397.3,880.0 L402.7,885.5 L400.6,886.9Z" fill="#ffffff"/><path d="M456.1,828.6 L452.1,833.9 L450.1,831.4Z" fill="#cfd9dd"/><path d="M651.6,971.6 L644.9,962.7 L649.5,960.8Z" fill="#ffffff"/><path d="M453.0,1098.8 L457.6,1102.0 L455.3,1103.8Z" fill="#ffffff"/><path d="M359.3,905.5 L357.9,913.9 L354.7,912.7Z" fill="#dbe3e6"/><path d="M646.7,1032.4 L647.3,1023.4 L652.7,1025.7Z" fill="#e3eaec"/><path d="M370.4,988.7 L373.0,977.8 L377.8,980.2Z" fill="#ffffff"/><path d="M675.4,965.5 L672.2,976.2 L667.1,973.2Z" fill="#cfd9dd"/><path d="M409.9,887.3 L418.4,890.0 L414.8,894.6Z" fill="#b9c6cc"/><path d="M452.5,850.5 L456.4,843.6 L458.4,845.1Z" fill="#dbe3e6"/><path d="M620.8,935.0 L617.7,944.3 L613.5,941.6Z" fill="#ffffff"/><path d="M634.9,940.3 L629.0,933.6 L632.8,931.7Z" fill="#cfd9dd"/><path d="M483.7,841.8 L495.4,841.0 L494.9,845.4Z" fill="#c5d0d5"/><path d="M417.5,1028.7 L414.2,1036.5 L410.6,1033.8Z" fill="#c5d0d5"/><path d="M626.2,931.9 L620.2,923.0 L625.4,921.3Z" fill="#c5d0d5"/><path d="M364.1,977.9 L364.8,985.3 L360.2,984.3Z" fill="#ffffff"/><path d="M502.4,1086.2 L498.0,1082.9 L499.9,1081.4Z" fill="#e3eaec"/><path d="M443.9,1110.4 L446.3,1104.7 L449.3,1107.3Z" fill="#ffffff"/><path d="M570.6,1073.0 L580.9,1077.9 L578.4,1081.2Z" fill="#b9c6cc"/><path d="M563.6,806.6 L564.6,813.1 L559.3,811.6Z" fill="#e3eaec"/><path d="M400.1,978.6 L395.5,984.5 L392.5,979.5Z" fill="#c5d0d5"/><path d="M614.4,943.3 L615.0,934.9 L619.1,936.3Z" fill="#b9c6cc"/><path d="M633.9,1055.3 L634.2,1047.6 L638.5,1049.2Z" fill="#ffffff"/><path d="M475.6,838.4 L473.6,846.6 L468.7,843.4Z" fill="#ffffff"/><path d="M683.2,993.3 L680.5,998.2 L678.1,995.6Z" fill="#ffffff"/><path d="M430.5,842.4 L437.5,845.9 L436.1,847.9Z" fill="#cfd9dd"/><path d="M457.6,859.3 L457.7,850.9 L462.2,852.4Z" fill="#e3eaec"/><path d="M373.3,928.6 L375.8,920.2 L380.4,923.3Z" fill="#e3eaec"/><path d="M543.7,843.9 L540.2,832.2 L546.0,831.9Z" fill="#e3eaec"/><path d="M625.4,899.5 L619.3,907.0 L616.5,903.4Z" fill="#ffffff"/><path d="M475.7,832.1 L479.2,822.6 L482.4,824.5Z" fill="#b9c6cc"/><path d="M574.9,1060.4 L576.1,1055.0 L578.4,1056.1Z" fill="#cfd9dd"/><path d="M441.0,877.7 L431.8,874.3 L433.2,871.9Z" fill="#cfd9dd"/><path d="M453.6,1128.7 L459.7,1122.7 L461.9,1126.3Z" fill="#ffffff"/><path d="M453.4,1110.9 L461.2,1109.1 L461.0,1113.3Z" fill="#ffffff"/><path d="M343.3,956.4 L346.1,947.3 L348.5,948.4Z" fill="#cfd9dd"/><path d="M450.1,1119.4 L451.7,1127.8 L445.6,1126.7Z" fill="#ffffff"/><path d="M499.7,1084.8 L496.0,1090.4 L493.0,1086.2Z" fill="#b9c6cc"/><path d="M501.7,1081.7 L509.2,1075.0 L511.1,1077.8Z" fill="#dbe3e6"/><path d="M514.7,1080.6 L512.1,1070.3 L518.5,1070.7Z" fill="#ffffff"/><path d="M410.3,1063.8 L408.3,1056.8 L413.6,1057.3Z" fill="#cfd9dd"/><path d="M472.2,1080.6 L484.0,1085.0 L480.2,1090.2Z" fill="#e3eaec"/><path d="M619.3,933.9 L618.8,926.3 L623.6,927.6Z" fill="#dbe3e6"/><path d="M441.8,1066.4 L449.0,1068.1 L445.5,1072.7Z" fill="#b9c6cc"/><path d="M359.0,923.5 L360.3,931.5 L355.3,930.7Z" fill="#cfd9dd"/><path d="M451.7,1109.3 L454.7,1118.6 L451.5,1119.0Z" fill="#b9c6cc"/><path d="M442.9,1066.6 L437.5,1059.1 L443.4,1057.5Z" fill="#ffffff"/><path d="M663.6,1025.2 L655.2,1022.6 L658.5,1018.1Z" fill="#b9c6cc"/><path d="M378.5,894.4 L375.4,904.4 L370.8,901.7Z" fill="#cfd9dd"/><path d="M632.5,923.1 L625.5,917.4 L629.2,914.8Z" fill="#ffffff"/><path d="M562.7,796.6 L569.5,804.8 L563.8,807.0Z" fill="#ffffff"/><path d="M658.1,941.3 L651.1,945.9 L649.7,940.5Z" fill="#c5d0d5"/><path d="M510.1,817.0 L518.2,820.6 L514.5,824.6Z" fill="#ffffff"/><path d="M525.3,1095.1 L528.7,1088.0 L532.1,1091.0Z" fill="#b9c6cc"/><path d="M430.2,846.7 L437.7,850.8 L434.6,854.0Z" fill="#ffffff"/><path d="M455.7,1070.1 L446.1,1074.8 L444.9,1069.3Z" fill="#c5d0d5"/><path d="M377.3,909.4 L380.9,915.3 L377.5,916.3Z" fill="#cfd9dd"/><path d="M429.3,1047.6 L419.4,1045.9 L421.0,1041.9Z" fill="#ffffff"/><path d="M599.8,873.5 L596.4,863.5 L599.4,863.1Z" fill="#e3eaec"/><path d="M405.0,981.8 L400.0,989.6 L397.7,987.6Z" fill="#ffffff"/><path d="M390.3,1015.1 L380.1,1019.0 L379.4,1015.4Z" fill="#cfd9dd"/><path d="M380.0,966.9 L384.7,961.2 L386.7,963.6Z" fill="#cfd9dd"/><path d="M392.8,1004.3 L387.0,1011.4 L383.9,1007.0Z" fill="#c5d0d5"/><path d="M644.9,913.7 L636.1,914.0 L637.0,909.9Z" fill="#dbe3e6"/><path d="M418.1,879.9 L413.0,871.3 L418.2,870.0Z" fill="#b9c6cc"/><path d="M348.4,876.4 L353.5,885.5 L350.0,886.6Z" fill="#dbe3e6"/><path d="M631.7,897.7 L629.1,906.5 L626.5,905.3Z" fill="#b9c6cc"/><path d="M371.0,875.8 L380.8,872.4 L381.1,878.1Z" fill="#b9c6cc"/><path d="M426.1,861.7 L418.5,856.9 L422.7,853.5Z" fill="#c5d0d5"/><path d="M386.4,937.9 L377.0,936.2 L378.5,932.5Z" fill="#cfd9dd"/><path d="M403.1,1038.8 L404.3,1046.9 L401.3,1046.8Z" fill="#cfd9dd"/><path d="M649.7,1021.0 L642.3,1019.0 L644.5,1015.4Z" fill="#e3eaec"/><path d="M477.5,829.9 L480.5,839.3 L476.7,839.6Z" fill="#b9c6cc"/><path d="M614.6,892.3 L622.0,893.8 L620.3,897.1Z" fill="#b9c6cc"/><path d="M339.4,935.8 L346.5,939.3 L344.8,941.4Z" fill="#b9c6cc"/><path d="M604.6,871.2 L599.0,865.4 L602.0,863.6Z" fill="#dbe3e6"/><path d="M473.7,1098.0 L479.9,1094.0 L481.0,1099.8Z" fill="#c5d0d5"/><path d="M613.2,1031.4 L624.1,1028.3 L624.4,1033.4Z" fill="#ffffff"/></g>
<circle cx="351.9" cy="889.1" r="4.2" fill="#e3e6ea" stroke="#a4acb6" stroke-width="1.1"/><circle cx="477.9" cy="1124.9" r="4.2" fill="#e3e6ea" stroke="#a4acb6" stroke-width="1.1"/><circle cx="338.7" cy="928.1" r="4.2" fill="#e3e6ea" stroke="#a4acb6" stroke-width="1.1"/><circle cx="577.4" cy="808.0" r="4.2" fill="#e3e6ea" stroke="#a4acb6" stroke-width="1.1"/><circle cx="378.7" cy="875.6" r="4.2" fill="#e3e6ea" stroke="#a4acb6" stroke-width="1.1"/><circle cx="504.7" cy="1111.4" r="4.2" fill="#e3e6ea" stroke="#a4acb6" stroke-width="1.1"/><circle cx="352.8" cy="954.5" r="4.2" fill="#e3e6ea" stroke="#a4acb6" stroke-width="1.1"/><circle cx="591.5" cy="834.4" r="4.2" fill="#e3e6ea" stroke="#a4acb6" stroke-width="1.1"/><circle cx="405.5" cy="862.1" r="4.2" fill="#e3e6ea" stroke="#a4acb6" stroke-width="1.1"/><circle cx="531.5" cy="1097.9" r="4.2" fill="#e3e6ea" stroke="#a4acb6" stroke-width="1.1"/><circle cx="366.9" cy="980.9" r="4.2" fill="#e3e6ea" stroke="#a4acb6" stroke-width="1.1"/><circle cx="605.6" cy="860.8" r="4.2" fill="#e3e6ea" stroke="#a4acb6" stroke-width="1.1"/><circle cx="432.4" cy="848.6" r="4.2" fill="#e3e6ea" stroke="#a4acb6" stroke-width="1.1"/><circle cx="558.3" cy="1084.4" r="4.2" fill="#e3e6ea" stroke="#a4acb6" stroke-width="1.1"/><circle cx="381.0" cy="1007.3" r="4.2" fill="#e3e6ea" stroke="#a4acb6" stroke-width="1.1"/><circle cx="619.7" cy="887.2" r="4.2" fill="#e3e6ea" stroke="#a4acb6" stroke-width="1.1"/><circle cx="459.2" cy="835.1" r="4.2" fill="#e3e6ea" stroke="#a4acb6" stroke-width="1.1"/><circle cx="585.1" cy="1070.9" r="4.2" fill="#e3e6ea" stroke="#a4acb6" stroke-width="1.1"/><circle cx="395.1" cy="1033.7" r="4.2" fill="#e3e6ea" stroke="#a4acb6" stroke-width="1.1"/><circle cx="633.8" cy="913.6" r="4.2" fill="#e3e6ea" stroke="#a4acb6" stroke-width="1.1"/><circle cx="486.0" cy="821.6" r="4.2" fill="#e3e6ea" stroke="#a4acb6" stroke-width="1.1"/><circle cx="612.0" cy="1057.4" r="4.2" fill="#e3e6ea" stroke="#a4acb6" stroke-width="1.1"/><circle cx="409.2" cy="1060.1" r="4.2" fill="#e3e6ea" stroke="#a4acb6" stroke-width="1.1"/><circle cx="647.9" cy="940.0" r="4.2" fill="#e3e6ea" stroke="#a4acb6" stroke-width="1.1"/><circle cx="512.8" cy="808.1" r="4.2" fill="#e3e6ea" stroke="#a4acb6" stroke-width="1.1"/><circle cx="638.8" cy="1043.9" r="4.2" fill="#e3e6ea" stroke="#a4acb6" stroke-width="1.1"/><circle cx="423.3" cy="1086.5" r="4.2" fill="#e3e6ea" stroke="#a4acb6" stroke-width="1.1"/><circle cx="662.0" cy="966.4" r="4.2" fill="#e3e6ea" stroke="#a4acb6" stroke-width="1.1"/><circle cx="539.6" cy="794.6" r="4.2" fill="#e3e6ea" stroke="#a4acb6" stroke-width="1.1"/><circle cx="665.6" cy="1030.4" r="4.2" fill="#e3e6ea" stroke="#a4acb6" stroke-width="1.1"/><circle cx="437.4" cy="1112.9" r="4.2" fill="#e3e6ea" stroke="#a4acb6" stroke-width="1.1"/><circle cx="676.1" cy="992.8" r="4.2" fill="#e3e6ea" stroke="#a4acb6" stroke-width="1.1"/>
<circle cx="376.1" cy="902.6" r="4.2" fill="#e3e6ea" stroke="#a4acb6" stroke-width="1.1"/><circle cx="480.4" cy="1097.9" r="4.2" fill="#e3e6ea" stroke="#a4acb6" stroke-width="1.1"/><circle cx="366.3" cy="931.0" r="4.2" fill="#e3e6ea" stroke="#a4acb6" stroke-width="1.1"/><circle cx="563.9" cy="831.5" r="4.2" fill="#e3e6ea" stroke="#a4acb6" stroke-width="1.1"/><circle cx="402.9" cy="889.1" r="4.2" fill="#e3e6ea" stroke="#a4acb6" stroke-width="1.1"/><circle cx="507.3" cy="1084.4" r="4.2" fill="#e3e6ea" stroke="#a4acb6" stroke-width="1.1"/><circle cx="380.4" cy="957.4" r="4.2" fill="#e3e6ea" stroke="#a4acb6" stroke-width="1.1"/><circle cx="578.0" cy="857.9" r="4.2" fill="#e3e6ea" stroke="#a4acb6" stroke-width="1.1"/><circle cx="429.8" cy="875.6" r="4.2" fill="#e3e6ea" stroke="#a4acb6" stroke-width="1.1"/><circle cx="534.1" cy="1070.9" r="4.2" fill="#e3e6ea" stroke="#a4acb6" stroke-width="1.1"/><circle cx="394.5" cy="983.8" r="4.2" fill="#e3e6ea" stroke="#a4acb6" stroke-width="1.1"/><circle cx="592.1" cy="884.3" r="4.2" fill="#e3e6ea" stroke="#a4acb6" stroke-width="1.1"/><circle cx="456.6" cy="862.1" r="4.2" fill="#e3e6ea" stroke="#a4acb6" stroke-width="1.1"/><circle cx="560.9" cy="1057.4" r="4.2" fill="#e3e6ea" stroke="#a4acb6" stroke-width="1.1"/><circle cx="408.6" cy="1010.2" r="4.2" fill="#e3e6ea" stroke="#a4acb6" stroke-width="1.1"/><circle cx="606.2" cy="910.7" r="4.2" fill="#e3e6ea" stroke="#a4acb6" stroke-width="1.1"/><circle cx="483.4" cy="848.6" r="4.2" fill="#e3e6ea" stroke="#a4acb6" stroke-width="1.1"/><circle cx="587.7" cy="1043.9" r="4.2" fill="#e3e6ea" stroke="#a4acb6" stroke-width="1.1"/><circle cx="422.7" cy="1036.6" r="4.2" fill="#e3e6ea" stroke="#a4acb6" stroke-width="1.1"/><circle cx="620.3" cy="937.1" r="4.2" fill="#e3e6ea" stroke="#a4acb6" stroke-width="1.1"/><circle cx="510.2" cy="835.1" r="4.2" fill="#e3e6ea" stroke="#a4acb6" stroke-width="1.1"/><circle cx="614.5" cy="1030.4" r="4.2" fill="#e3e6ea" stroke="#a4acb6" stroke-width="1.1"/><circle cx="436.8" cy="1063.0" r="4.2" fill="#e3e6ea" stroke="#a4acb6" stroke-width="1.1"/><circle cx="634.4" cy="963.5" r="4.2" fill="#e3e6ea" stroke="#a4acb6" stroke-width="1.1"/><circle cx="537.0" cy="821.6" r="4.2" fill="#e3e6ea" stroke="#a4acb6" stroke-width="1.1"/><circle cx="641.4" cy="1016.9" r="4.2" fill="#e3e6ea" stroke="#a4acb6" stroke-width="1.1"/><circle cx="450.9" cy="1089.4" r="4.2" fill="#e3e6ea" stroke="#a4acb6" stroke-width="1.1"/><circle cx="648.5" cy="989.9" r="4.2" fill="#e3e6ea" stroke="#a4acb6" stroke-width="1.1"/>
<path d="M516.0,846.7 L521.6,844.4 L527.5,843.0 L533.5,842.5 L539.6,843.0 L545.5,844.4 L551.2,846.6 L556.4,849.7 L561.1,853.6 L565.1,858.1 L568.3,863.2 L630.4,979.5 L632.1,983.3 L633.1,987.3 L633.5,991.4 L633.2,995.5 L632.3,999.4 L630.8,1003.2 L628.6,1006.7 L625.9,1009.9 L622.8,1012.5 L619.2,1014.7 L488.1,1080.7 L484.4,1082.2 L480.4,1083.2 L476.3,1083.5 L472.2,1083.2 L468.2,1082.2 L464.4,1080.7 L460.8,1078.6 L457.7,1076.0 L455.0,1072.9 L452.8,1069.5 L386.3,945.1 L384.5,940.9 L383.3,936.4 L382.9,931.8 L383.2,927.2 L384.3,922.7 L386.0,918.5 L388.4,914.5 L391.4,911.0 L395.0,908.0 L398.9,905.6Z" fill="url(#gHaloI)" stroke="#a4acb6" stroke-width="1.6"/>
<path d="M517.7,851.4 L522.7,849.4 L527.9,848.1 L533.3,847.7 L538.7,848.1 L543.9,849.3 L549.0,851.4 L553.6,854.1 L557.7,857.5 L561.3,861.6 L564.2,866.1 L625.0,979.9 L626.5,983.3 L627.4,986.8 L627.7,990.5 L627.5,994.1 L626.7,997.7 L625.3,1001.0 L623.4,1004.2 L621.0,1006.9 L618.2,1009.3 L615.0,1011.2 L487.7,1075.3 L484.3,1076.7 L480.8,1077.5 L477.2,1077.8 L473.5,1077.5 L470.0,1076.7 L466.6,1075.3 L463.4,1073.5 L460.6,1071.2 L458.2,1068.4 L456.3,1065.4 L391.6,944.4 L390.0,940.6 L388.9,936.6 L388.6,932.5 L388.8,928.4 L389.8,924.4 L391.3,920.7 L393.4,917.2 L396.1,914.0 L399.3,911.4 L402.8,909.2Z" fill="none" stroke="#f6f7f9" stroke-width="3"/>
<path d="M524.5,856.9 L527.8,855.6 L531.3,854.8 L534.9,854.5 L538.4,854.7 L542.0,855.6 L545.3,856.9 L548.4,858.7 L551.2,861.0 L553.5,863.7 L555.5,866.7 L617.8,983.4 L618.8,985.6 L619.4,988.0 L619.6,990.4 L619.4,992.8 L618.9,995.2 L618.0,997.5 L616.7,999.5 L615.1,1001.4 L613.2,1003.0 L611.1,1004.2 L484.2,1068.1 L482.0,1069.0 L479.6,1069.6 L477.2,1069.8 L474.8,1069.6 L472.4,1069.1 L470.1,1068.1 L468.0,1066.9 L466.2,1065.4 L464.6,1063.6 L463.3,1061.5 L398.4,940.0 L397.3,937.5 L396.6,934.9 L396.3,932.2 L396.5,929.4 L397.1,926.8 L398.2,924.3 L399.6,921.9 L401.4,919.8 L403.5,918.1 L405.9,916.6Z" fill="url(#gInner)" stroke="#a9b1bb" stroke-width="1.5"/>
<path d="M410.0,935.0 L527.0,862.0 L602.0,995.0 L470.0,1048.0Z" fill="url(#gEm)"/>
<path d="M527.0,862.0 L602.0,995.0 L580.1,987.3 L521.6,883.6Z" fill="#2cc27a"/>
<path d="M525.1,869.5 L594.3,992.3 L586.6,989.6 L523.2,877.1Z" fill="#6fd8a4" opacity="0.8"/>
<path d="M602.0,995.0 L470.0,1048.0 L477.1,1028.6 L580.1,987.3Z" fill="#12a155"/>
<path d="M602.0,995.0 L562.4,1010.9 L554.3,997.6 L580.1,987.3Z" fill="#1ec7a3" opacity="0.85"/>
<path d="M470.0,1048.0 L503.0,1034.8 L492.5,1022.4 L477.1,1028.6Z" fill="#22c9a9" opacity="0.7"/>
<path d="M410.0,935.0 L527.0,862.0 L521.6,883.6 L430.3,940.5Z" fill="#25b869"/>
<path d="M410.0,935.0 L470.0,1048.0 L477.1,1028.6 L430.3,940.5Z" fill="#21b566"/>
<path d="M430.3,940.5 L521.6,883.6 L580.1,987.3 L477.1,1028.6Z" fill="#1fb969"/>
<path d="M430.3,940.5 L480.5,909.2 L533.7,1005.9 L477.1,1028.6Z" fill="#1aae60" opacity="0.7"/>
<path d="M410.0,935.0 L439.2,916.8 L439.4,934.8 L430.3,940.5 L422.0,957.6Z" fill="#2b9f57" opacity="0.55"/>
<ellipse cx="401" cy="925" rx="10.5" ry="13.5" fill="url(#gProng)" stroke="#aeb5be" stroke-width="0.8"/>
<ellipse cx="540" cy="854" rx="10.5" ry="13.5" fill="url(#gProng)" stroke="#aeb5be" stroke-width="0.8"/>
<ellipse cx="611" cy="991" rx="10.5" ry="13.5" fill="url(#gProng)" stroke="#aeb5be" stroke-width="0.8"/>
<ellipse cx="472" cy="1059" rx="10.5" ry="13.5" fill="url(#gProng)" stroke="#aeb5be" stroke-width="0.8"/>
</g>
<g id="rightring">
<ellipse cx="1513" cy="1559" rx="62" ry="9" fill="#9aa3ad" opacity="0.35" filter="url(#blur6)"/>
<path d="M1475,1085 L1548,1085 L1548,1540 Q1548,1557 1531,1557 L1492,1557 Q1475,1557 1475,1540 Z" fill="url(#gShank)"/>
<path d="M1475,1500 L1548,1500 L1548,1540 Q1548,1557 1531,1557 L1492,1557 Q1475,1557 1475,1540 Z" fill="url(#gShankB)"/>
<path d="M1351.0,566.0L1354.0,562.0L1420.0,562.0L1420.0,655.0C1415.8,654.5 1402.5,653.3 1395.0,652.0C1387.5,650.7 1380.5,650.3 1375.0,647.0C1369.5,643.7 1365.2,639.0 1362.0,632.0C1358.8,625.0 1357.7,612.8 1356.0,605.0C1354.3,597.2 1352.8,591.5 1352.0,585.0C1351.2,578.5 1351.2,569.2 1351.0,566.0Z" fill="url(#gHeadL)"/>
<path d="M1674.0,566.0L1671.0,562.0L1605.0,562.0L1605.0,655.0C1609.2,654.5 1622.5,653.3 1630.0,652.0C1637.5,650.7 1644.5,650.3 1650.0,647.0C1655.5,643.7 1659.8,639.0 1663.0,632.0C1666.2,625.0 1667.3,612.8 1669.0,605.0C1670.7,597.2 1672.2,591.5 1673.0,585.0C1673.8,578.5 1673.8,569.2 1674.0,566.0Z" fill="url(#gHeadR)"/>
<path d="M1420,562 L1605,562 L1605,657 L1420,657 Z" fill="url(#gHeadC)"/>
<path d="M1378,650 L1432,662 L1432,655 L1396,648 Z" fill="#eceef1"/>
<path d="M1647,650 L1593,662 L1593,655 L1629,648 Z" fill="#eceef1"/>
<path d="M1376,562 L1392,553 L1633,553 L1649,562 Z" fill="#e6eaec"/>
<rect x="1407" y="545.5" width="211" height="8" rx="3" fill="#e4e7eb"/>
<path d="M1392,557.5 H1634" stroke="#b9c0c8" stroke-width="2.4" stroke-dasharray="3 4" fill="none"/>
<path d="M1394,556 H1632" stroke="#ffffff" stroke-width="1.6" stroke-dasharray="2 5" fill="none"/>
<path d="M1353,563.5 H1672" stroke="#f4f5f7" stroke-width="2.2" fill="none"/>
<rect x="1450" y="528" width="127" height="17" fill="#f3f5f6"/>
<path d="M1452,544.5 H1575" stroke="#cfd4da" stroke-width="1.2"/>
<path d="M1452.5,518.5 L1472,501.5 L1553,501.5 L1575,520.5 L1575,530 L1452.5,530 Z" fill="#16a557"/>
<path d="M1452.5,518.5 L1472,501.5 L1553,501.5 L1575,520.5 Q1513,524 1452.5,518.5 Z" fill="#30bc71"/>
<path d="M1452.5,518.5 Q1513,514 1575,520.5 Q1513,526 1452.5,518.5 Z" fill="#22ad62"/>
<path d="M1425,546 L1425,516 Q1425,504 1438,504 Q1451,504 1451,516 L1451,546 Z" fill="url(#gPrL)"/>
<path d="M1575,546 L1575,516 Q1575,504 1588,504 Q1601,504 1601,516 L1601,546 Z" fill="url(#gPrR)"/>
<path d="M1438.5,512 V546 M1588.5,512 V546" stroke="#aab2bc" stroke-width="1.2"/>
<path d="M1430,600 Q1430,578 1452,578 L1576,578 Q1598,578 1598,600 L1598,790 Q1560,770 1513,770 Q1468,770 1430,790 Z" fill="url(#gWall)"/>
<path d="M1513.0,595.0C1515.8,593.8 1522.2,589.2 1530.0,588.0C1537.8,586.8 1552.0,586.0 1560.0,588.0C1568.0,590.0 1577.2,593.8 1578.0,600.0C1578.8,606.2 1572.2,616.7 1565.0,625.0C1557.8,633.3 1543.7,642.8 1535.0,650.0C1526.3,657.2 1516.7,665.0 1513.0,668.0C1509.2,665.0 1498.5,657.2 1490.0,650.0C1481.5,642.8 1469.0,633.3 1462.0,625.0C1455.0,616.7 1447.3,606.2 1448.0,600.0C1448.7,593.8 1458.0,590.0 1466.0,588.0C1474.0,586.0 1488.2,586.8 1496.0,588.0C1503.8,589.2 1510.2,593.8 1513.0,595.0Z" fill="url(#gIn1)"/>
<path d="M1470,592 L1480,640 M1492,590 L1500,655 M1513,596 L1513,664 M1534,590 L1528,655 M1556,592 L1546,640" stroke="#e9ecef" stroke-width="5" fill="none" opacity="0.8"/>
<path d="M1513.0,683.0C1518.3,685.8 1535.8,693.5 1545.0,700.0C1554.2,706.5 1563.5,715.0 1568.0,722.0C1572.5,729.0 1573.3,736.7 1572.0,742.0C1570.7,747.3 1566.2,751.7 1560.0,754.0C1553.8,756.3 1542.8,757.3 1535.0,756.0C1527.2,754.7 1516.7,747.7 1513.0,746.0C1509.3,747.7 1498.8,754.7 1491.0,756.0C1483.2,757.3 1472.2,756.3 1466.0,754.0C1459.8,751.7 1455.3,747.3 1454.0,742.0C1452.7,736.7 1453.5,729.0 1458.0,722.0C1462.5,715.0 1471.8,706.5 1481.0,700.0C1490.2,693.5 1507.7,685.8 1513.0,683.0Z" fill="url(#gIn2)"/>
<path d="M1513,690 L1513,722 L1480,750 M1513,722 L1546,750" stroke="#eceef1" stroke-width="4" fill="none" stroke-linejoin="round"/>
<path d="M1513,690 L1513,722" stroke="#b8bfc8" stroke-width="1.2" fill="none"/>
<path d="M1584.0,602.0C1584.3,600.7 1587.0,596.3 1586.0,594.0C1585.0,591.7 1582.3,589.2 1578.0,588.0C1573.7,586.8 1567.2,586.7 1560.0,586.5C1552.8,586.3 1542.8,586.4 1535.0,587.0C1527.2,587.6 1516.7,589.5 1513.0,590.0C1509.3,589.5 1498.8,587.6 1491.0,587.0C1483.2,586.4 1473.2,586.3 1466.0,586.5C1458.8,586.7 1452.3,586.6 1448.0,588.0C1443.7,589.4 1441.5,591.7 1440.0,595.0C1438.5,598.3 1437.4,602.2 1439.0,608.0C1440.6,613.8 1444.6,623.5 1449.7,629.6C1454.8,635.7 1463.4,640.4 1469.6,644.5C1475.8,648.6 1481.6,651.3 1487.0,654.4C1492.4,657.5 1499.5,661.6 1502.0,663.0" fill="none" stroke-linecap="butt" stroke-linejoin="miter" stroke-miterlimit="3" stroke="#a9b1bb" stroke-width="16"/>
<path d="M1584.0,602.0C1584.3,600.7 1587.0,596.3 1586.0,594.0C1585.0,591.7 1582.3,589.2 1578.0,588.0C1573.7,586.8 1567.2,586.7 1560.0,586.5C1552.8,586.3 1542.8,586.4 1535.0,587.0C1527.2,587.6 1516.7,589.5 1513.0,590.0C1509.3,589.5 1498.8,587.6 1491.0,587.0C1483.2,586.4 1473.2,586.3 1466.0,586.5C1458.8,586.7 1452.3,586.6 1448.0,588.0C1443.7,589.4 1441.5,591.7 1440.0,595.0C1438.5,598.3 1437.4,602.2 1439.0,608.0C1440.6,613.8 1444.6,623.5 1449.7,629.6C1454.8,635.7 1463.4,640.4 1469.6,644.5C1475.8,648.6 1481.6,651.3 1487.0,654.4C1492.4,657.5 1499.5,661.6 1502.0,663.0" fill="none" stroke-linecap="butt" stroke-linejoin="miter" stroke-miterlimit="3" stroke="#d5dadf" stroke-width="14.4"/>
<path d="M1584.0,602.0C1584.3,600.7 1587.0,596.3 1586.0,594.0C1585.0,591.7 1582.3,589.2 1578.0,588.0C1573.7,586.8 1567.2,586.7 1560.0,586.5C1552.8,586.3 1542.8,586.4 1535.0,587.0C1527.2,587.6 1516.7,589.5 1513.0,590.0C1509.3,589.5 1498.8,587.6 1491.0,587.0C1483.2,586.4 1473.2,586.3 1466.0,586.5C1458.8,586.7 1452.3,586.6 1448.0,588.0C1443.7,589.4 1441.5,591.7 1440.0,595.0C1438.5,598.3 1437.4,602.2 1439.0,608.0C1440.6,613.8 1444.6,623.5 1449.7,629.6C1454.8,635.7 1463.4,640.4 1469.6,644.5C1475.8,648.6 1481.6,651.3 1487.0,654.4C1492.4,657.5 1499.5,661.6 1502.0,663.0" fill="none" stroke-linecap="butt" stroke-linejoin="miter" stroke-miterlimit="3" stroke="#e0e3e7" stroke-width="11.5"/>
<path d="M1584.0,602.0C1584.3,600.7 1587.0,596.3 1586.0,594.0C1585.0,591.7 1582.3,589.2 1578.0,588.0C1573.7,586.8 1567.2,586.7 1560.0,586.5C1552.8,586.3 1542.8,586.4 1535.0,587.0C1527.2,587.6 1516.7,589.5 1513.0,590.0C1509.3,589.5 1498.8,587.6 1491.0,587.0C1483.2,586.4 1473.2,586.3 1466.0,586.5C1458.8,586.7 1452.3,586.6 1448.0,588.0C1443.7,589.4 1441.5,591.7 1440.0,595.0C1438.5,598.3 1437.4,602.2 1439.0,608.0C1440.6,613.8 1444.6,623.5 1449.7,629.6C1454.8,635.7 1463.4,640.4 1469.6,644.5C1475.8,648.6 1481.6,651.3 1487.0,654.4C1492.4,657.5 1499.5,661.6 1502.0,663.0" fill="none" stroke-linecap="butt" stroke-linejoin="miter" stroke-miterlimit="3" stroke="#eaecef" stroke-width="6.4" filter="url(#blur1)"/>
<path d="M1584.5,600.0C1578.6,604.5 1561.1,618.8 1549.0,627.0C1536.9,635.2 1523.2,642.4 1511.8,649.4C1500.4,656.4 1490.0,662.5 1480.7,669.3C1471.4,676.1 1462.5,682.7 1455.9,690.4C1449.3,698.1 1444.1,708.0 1441.0,715.3C1437.9,722.5 1437.3,728.1 1437.3,733.9C1437.3,739.7 1437.9,745.0 1441.0,750.0C1444.1,755.0 1449.3,760.4 1455.9,763.7C1462.5,767.0 1472.7,769.3 1480.7,770.0C1488.7,770.7 1498.6,769.7 1504.0,768.0C1509.4,766.3 1511.5,761.3 1513.0,760.0C1514.5,761.3 1517.0,766.3 1522.0,768.0C1527.0,769.7 1535.3,770.7 1542.9,770.0C1550.5,769.3 1561.1,767.0 1567.7,763.7C1574.3,760.4 1579.5,755.0 1582.6,750.0C1585.7,745.0 1586.7,739.7 1586.3,733.9C1585.9,728.1 1584.1,721.3 1580.0,715.3C1575.9,709.3 1568.7,703.5 1561.5,697.9C1554.3,692.3 1542.5,685.5 1536.6,681.7C1530.7,677.9 1527.8,676.1 1526.0,675.0" fill="none" stroke-linecap="round" stroke-linejoin="miter" stroke-miterlimit="3" stroke="#a9b1bb" stroke-width="19"/>
<path d="M1584.5,600.0C1578.6,604.5 1561.1,618.8 1549.0,627.0C1536.9,635.2 1523.2,642.4 1511.8,649.4C1500.4,656.4 1490.0,662.5 1480.7,669.3C1471.4,676.1 1462.5,682.7 1455.9,690.4C1449.3,698.1 1444.1,708.0 1441.0,715.3C1437.9,722.5 1437.3,728.1 1437.3,733.9C1437.3,739.7 1437.9,745.0 1441.0,750.0C1444.1,755.0 1449.3,760.4 1455.9,763.7C1462.5,767.0 1472.7,769.3 1480.7,770.0C1488.7,770.7 1498.6,769.7 1504.0,768.0C1509.4,766.3 1511.5,761.3 1513.0,760.0C1514.5,761.3 1517.0,766.3 1522.0,768.0C1527.0,769.7 1535.3,770.7 1542.9,770.0C1550.5,769.3 1561.1,767.0 1567.7,763.7C1574.3,760.4 1579.5,755.0 1582.6,750.0C1585.7,745.0 1586.7,739.7 1586.3,733.9C1585.9,728.1 1584.1,721.3 1580.0,715.3C1575.9,709.3 1568.7,703.5 1561.5,697.9C1554.3,692.3 1542.5,685.5 1536.6,681.7C1530.7,677.9 1527.8,676.1 1526.0,675.0" fill="none" stroke-linecap="round" stroke-linejoin="miter" stroke-miterlimit="3" stroke="#d5dadf" stroke-width="17.4"/>
<path d="M1584.5,600.0C1578.6,604.5 1561.1,618.8 1549.0,627.0C1536.9,635.2 1523.2,642.4 1511.8,649.4C1500.4,656.4 1490.0,662.5 1480.7,669.3C1471.4,676.1 1462.5,682.7 1455.9,690.4C1449.3,698.1 1444.1,708.0 1441.0,715.3C1437.9,722.5 1437.3,728.1 1437.3,733.9C1437.3,739.7 1437.9,745.0 1441.0,750.0C1444.1,755.0 1449.3,760.4 1455.9,763.7C1462.5,767.0 1472.7,769.3 1480.7,770.0C1488.7,770.7 1498.6,769.7 1504.0,768.0C1509.4,766.3 1511.5,761.3 1513.0,760.0C1514.5,761.3 1517.0,766.3 1522.0,768.0C1527.0,769.7 1535.3,770.7 1542.9,770.0C1550.5,769.3 1561.1,767.0 1567.7,763.7C1574.3,760.4 1579.5,755.0 1582.6,750.0C1585.7,745.0 1586.7,739.7 1586.3,733.9C1585.9,728.1 1584.1,721.3 1580.0,715.3C1575.9,709.3 1568.7,703.5 1561.5,697.9C1554.3,692.3 1542.5,685.5 1536.6,681.7C1530.7,677.9 1527.8,676.1 1526.0,675.0" fill="none" stroke-linecap="round" stroke-linejoin="miter" stroke-miterlimit="3" stroke="#e0e3e7" stroke-width="14.5"/>
<path d="M1584.5,600.0C1578.6,604.5 1561.1,618.8 1549.0,627.0C1536.9,635.2 1523.2,642.4 1511.8,649.4C1500.4,656.4 1490.0,662.5 1480.7,669.3C1471.4,676.1 1462.5,682.7 1455.9,690.4C1449.3,698.1 1444.1,708.0 1441.0,715.3C1437.9,722.5 1437.3,728.1 1437.3,733.9C1437.3,739.7 1437.9,745.0 1441.0,750.0C1444.1,755.0 1449.3,760.4 1455.9,763.7C1462.5,767.0 1472.7,769.3 1480.7,770.0C1488.7,770.7 1498.6,769.7 1504.0,768.0C1509.4,766.3 1511.5,761.3 1513.0,760.0C1514.5,761.3 1517.0,766.3 1522.0,768.0C1527.0,769.7 1535.3,770.7 1542.9,770.0C1550.5,769.3 1561.1,767.0 1567.7,763.7C1574.3,760.4 1579.5,755.0 1582.6,750.0C1585.7,745.0 1586.7,739.7 1586.3,733.9C1585.9,728.1 1584.1,721.3 1580.0,715.3C1575.9,709.3 1568.7,703.5 1561.5,697.9C1554.3,692.3 1542.5,685.5 1536.6,681.7C1530.7,677.9 1527.8,676.1 1526.0,675.0" fill="none" stroke-linecap="round" stroke-linejoin="miter" stroke-miterlimit="3" stroke="#eaecef" stroke-width="7.6" filter="url(#blur1)"/>
<path d="M1512.5,804.0C1515.4,802.5 1521.8,796.7 1530.0,795.0C1538.2,793.3 1554.5,789.8 1562.0,794.0C1569.5,798.2 1574.5,810.7 1575.0,820.0C1575.5,829.3 1570.8,840.0 1565.0,850.0C1559.2,860.0 1548.8,868.8 1540.0,880.0C1531.2,891.2 1517.1,910.8 1512.5,917.0C1507.9,910.8 1493.8,891.2 1485.0,880.0C1476.2,868.8 1465.8,860.0 1460.0,850.0C1454.2,840.0 1449.5,829.3 1450.0,820.0C1450.5,810.7 1455.5,798.2 1463.0,794.0C1470.5,789.8 1486.8,793.3 1495.0,795.0C1503.2,796.7 1509.6,802.5 1512.5,804.0Z" fill="#ffffff"/>
<path d="M1512.5,804.0C1515.4,802.5 1521.8,796.7 1530.0,795.0C1538.2,793.3 1554.5,789.8 1562.0,794.0C1569.5,798.2 1573.3,813.2 1575.0,820.0C1576.7,826.8 1572.5,832.5 1572.0,835.0C1567.5,834.8 1552.8,833.5 1545.0,834.0C1537.2,834.5 1530.4,836.0 1525.0,838.0C1519.6,840.0 1514.6,844.7 1512.5,846.0C1510.4,844.7 1505.4,840.0 1500.0,838.0C1494.6,836.0 1487.8,834.5 1480.0,834.0C1472.2,833.5 1457.5,834.8 1453.0,835.0C1452.5,832.5 1448.3,826.8 1450.0,820.0C1451.7,813.2 1455.5,798.2 1463.0,794.0C1470.5,789.8 1486.8,793.3 1495.0,795.0C1503.2,796.7 1509.6,802.5 1512.5,804.0Z" fill="url(#gW2)"/>
<path d="M1512.8,793.0C1510.6,791.8 1505.8,787.5 1500.0,786.0C1494.2,784.5 1485.5,783.8 1478.0,784.0C1470.5,784.2 1461.0,784.3 1455.0,787.0C1449.0,789.7 1444.7,794.5 1442.0,800.0C1439.3,805.5 1439.0,812.5 1439.0,820.0C1439.0,827.5 1439.3,836.0 1442.0,845.0C1444.7,854.0 1448.7,864.2 1455.0,874.0C1461.3,883.8 1470.4,893.7 1480.0,904.0C1489.6,914.3 1500.9,924.3 1512.8,936.0C1524.6,947.7 1540.6,962.7 1551.0,974.0C1561.4,985.3 1569.3,994.0 1575.0,1004.0C1580.7,1014.0 1584.2,1024.7 1585.0,1034.0C1585.8,1043.3 1583.8,1053.5 1580.0,1060.0C1576.2,1066.5 1569.2,1070.7 1562.0,1073.0C1554.8,1075.3 1543.7,1074.3 1537.0,1074.0C1530.3,1073.7 1526.0,1072.7 1522.0,1071.0C1518.0,1069.3 1514.3,1065.2 1512.8,1064.0C1511.2,1065.2 1507.5,1069.3 1503.5,1071.0C1499.5,1072.7 1495.2,1073.7 1488.5,1074.0C1481.8,1074.3 1470.7,1075.3 1463.5,1073.0C1456.3,1070.7 1449.3,1066.5 1445.5,1060.0C1441.7,1053.5 1439.7,1043.3 1440.5,1034.0C1441.3,1024.7 1444.8,1014.0 1450.5,1004.0C1456.2,994.0 1464.1,985.3 1474.5,974.0C1484.9,962.7 1500.9,947.7 1512.8,936.0C1524.6,924.3 1535.9,914.3 1545.5,904.0C1555.1,893.7 1564.2,883.8 1570.5,874.0C1576.8,864.2 1580.8,854.0 1583.5,845.0C1586.2,836.0 1586.5,827.5 1586.5,820.0C1586.5,812.5 1586.2,805.5 1583.5,800.0C1580.8,794.5 1576.5,789.7 1570.5,787.0C1564.5,784.3 1555.0,784.2 1547.5,784.0C1540.0,783.8 1531.3,784.5 1525.5,786.0C1519.7,787.5 1514.9,791.8 1512.8,793.0Z" fill="none" stroke-linecap="butt" stroke-linejoin="miter" stroke-miterlimit="3" stroke="#a9b1bb" stroke-width="27"/>
<path d="M1512.8,793.0C1510.6,791.8 1505.8,787.5 1500.0,786.0C1494.2,784.5 1485.5,783.8 1478.0,784.0C1470.5,784.2 1461.0,784.3 1455.0,787.0C1449.0,789.7 1444.7,794.5 1442.0,800.0C1439.3,805.5 1439.0,812.5 1439.0,820.0C1439.0,827.5 1439.3,836.0 1442.0,845.0C1444.7,854.0 1448.7,864.2 1455.0,874.0C1461.3,883.8 1470.4,893.7 1480.0,904.0C1489.6,914.3 1500.9,924.3 1512.8,936.0C1524.6,947.7 1540.6,962.7 1551.0,974.0C1561.4,985.3 1569.3,994.0 1575.0,1004.0C1580.7,1014.0 1584.2,1024.7 1585.0,1034.0C1585.8,1043.3 1583.8,1053.5 1580.0,1060.0C1576.2,1066.5 1569.2,1070.7 1562.0,1073.0C1554.8,1075.3 1543.7,1074.3 1537.0,1074.0C1530.3,1073.7 1526.0,1072.7 1522.0,1071.0C1518.0,1069.3 1514.3,1065.2 1512.8,1064.0C1511.2,1065.2 1507.5,1069.3 1503.5,1071.0C1499.5,1072.7 1495.2,1073.7 1488.5,1074.0C1481.8,1074.3 1470.7,1075.3 1463.5,1073.0C1456.3,1070.7 1449.3,1066.5 1445.5,1060.0C1441.7,1053.5 1439.7,1043.3 1440.5,1034.0C1441.3,1024.7 1444.8,1014.0 1450.5,1004.0C1456.2,994.0 1464.1,985.3 1474.5,974.0C1484.9,962.7 1500.9,947.7 1512.8,936.0C1524.6,924.3 1535.9,914.3 1545.5,904.0C1555.1,893.7 1564.2,883.8 1570.5,874.0C1576.8,864.2 1580.8,854.0 1583.5,845.0C1586.2,836.0 1586.5,827.5 1586.5,820.0C1586.5,812.5 1586.2,805.5 1583.5,800.0C1580.8,794.5 1576.5,789.7 1570.5,787.0C1564.5,784.3 1555.0,784.2 1547.5,784.0C1540.0,783.8 1531.3,784.5 1525.5,786.0C1519.7,787.5 1514.9,791.8 1512.8,793.0Z" fill="none" stroke-linecap="butt" stroke-linejoin="miter" stroke-miterlimit="3" stroke="#d4d9de" stroke-width="25.4"/>
<path d="M1512.8,793.0C1510.6,791.8 1505.8,787.5 1500.0,786.0C1494.2,784.5 1485.5,783.8 1478.0,784.0C1470.5,784.2 1461.0,784.3 1455.0,787.0C1449.0,789.7 1444.7,794.5 1442.0,800.0C1439.3,805.5 1439.0,812.5 1439.0,820.0C1439.0,827.5 1439.3,836.0 1442.0,845.0C1444.7,854.0 1448.7,864.2 1455.0,874.0C1461.3,883.8 1470.4,893.7 1480.0,904.0C1489.6,914.3 1500.9,924.3 1512.8,936.0C1524.6,947.7 1540.6,962.7 1551.0,974.0C1561.4,985.3 1569.3,994.0 1575.0,1004.0C1580.7,1014.0 1584.2,1024.7 1585.0,1034.0C1585.8,1043.3 1583.8,1053.5 1580.0,1060.0C1576.2,1066.5 1569.2,1070.7 1562.0,1073.0C1554.8,1075.3 1543.7,1074.3 1537.0,1074.0C1530.3,1073.7 1526.0,1072.7 1522.0,1071.0C1518.0,1069.3 1514.3,1065.2 1512.8,1064.0C1511.2,1065.2 1507.5,1069.3 1503.5,1071.0C1499.5,1072.7 1495.2,1073.7 1488.5,1074.0C1481.8,1074.3 1470.7,1075.3 1463.5,1073.0C1456.3,1070.7 1449.3,1066.5 1445.5,1060.0C1441.7,1053.5 1439.7,1043.3 1440.5,1034.0C1441.3,1024.7 1444.8,1014.0 1450.5,1004.0C1456.2,994.0 1464.1,985.3 1474.5,974.0C1484.9,962.7 1500.9,947.7 1512.8,936.0C1524.6,924.3 1535.9,914.3 1545.5,904.0C1555.1,893.7 1564.2,883.8 1570.5,874.0C1576.8,864.2 1580.8,854.0 1583.5,845.0C1586.2,836.0 1586.5,827.5 1586.5,820.0C1586.5,812.5 1586.2,805.5 1583.5,800.0C1580.8,794.5 1576.5,789.7 1570.5,787.0C1564.5,784.3 1555.0,784.2 1547.5,784.0C1540.0,783.8 1531.3,784.5 1525.5,786.0C1519.7,787.5 1514.9,791.8 1512.8,793.0Z" fill="none" stroke-linecap="butt" stroke-linejoin="miter" stroke-miterlimit="3" stroke="#c2c8d0" stroke-width="20"/>
<path d="M1512.8,793.0C1510.6,791.8 1505.8,787.5 1500.0,786.0C1494.2,784.5 1485.5,783.8 1478.0,784.0C1470.5,784.2 1461.0,784.3 1455.0,787.0C1449.0,789.7 1444.7,794.5 1442.0,800.0C1439.3,805.5 1439.0,812.5 1439.0,820.0C1439.0,827.5 1439.3,836.0 1442.0,845.0C1444.7,854.0 1448.7,864.2 1455.0,874.0C1461.3,883.8 1470.4,893.7 1480.0,904.0C1489.6,914.3 1500.9,924.3 1512.8,936.0C1524.6,947.7 1540.6,962.7 1551.0,974.0C1561.4,985.3 1569.3,994.0 1575.0,1004.0C1580.7,1014.0 1584.2,1024.7 1585.0,1034.0C1585.8,1043.3 1583.8,1053.5 1580.0,1060.0C1576.2,1066.5 1569.2,1070.7 1562.0,1073.0C1554.8,1075.3 1543.7,1074.3 1537.0,1074.0C1530.3,1073.7 1526.0,1072.7 1522.0,1071.0C1518.0,1069.3 1514.3,1065.2 1512.8,1064.0C1511.2,1065.2 1507.5,1069.3 1503.5,1071.0C1499.5,1072.7 1495.2,1073.7 1488.5,1074.0C1481.8,1074.3 1470.7,1075.3 1463.5,1073.0C1456.3,1070.7 1449.3,1066.5 1445.5,1060.0C1441.7,1053.5 1439.7,1043.3 1440.5,1034.0C1441.3,1024.7 1444.8,1014.0 1450.5,1004.0C1456.2,994.0 1464.1,985.3 1474.5,974.0C1484.9,962.7 1500.9,947.7 1512.8,936.0C1524.6,924.3 1535.9,914.3 1545.5,904.0C1555.1,893.7 1564.2,883.8 1570.5,874.0C1576.8,864.2 1580.8,854.0 1583.5,845.0C1586.2,836.0 1586.5,827.5 1586.5,820.0C1586.5,812.5 1586.2,805.5 1583.5,800.0C1580.8,794.5 1576.5,789.7 1570.5,787.0C1564.5,784.3 1555.0,784.2 1547.5,784.0C1540.0,783.8 1531.3,784.5 1525.5,786.0C1519.7,787.5 1514.9,791.8 1512.8,793.0Z" fill="none" stroke-linecap="butt" stroke-linejoin="miter" stroke-miterlimit="3" stroke="#d5dadf" stroke-width="18.4"/>
<path d="M1512.8,793.0C1510.6,791.8 1505.8,787.5 1500.0,786.0C1494.2,784.5 1485.5,783.8 1478.0,784.0C1470.5,784.2 1461.0,784.3 1455.0,787.0C1449.0,789.7 1444.7,794.5 1442.0,800.0C1439.3,805.5 1439.0,812.5 1439.0,820.0C1439.0,827.5 1439.3,836.0 1442.0,845.0C1444.7,854.0 1448.7,864.2 1455.0,874.0C1461.3,883.8 1470.4,893.7 1480.0,904.0C1489.6,914.3 1500.9,924.3 1512.8,936.0C1524.6,947.7 1540.6,962.7 1551.0,974.0C1561.4,985.3 1569.3,994.0 1575.0,1004.0C1580.7,1014.0 1584.2,1024.7 1585.0,1034.0C1585.8,1043.3 1583.8,1053.5 1580.0,1060.0C1576.2,1066.5 1569.2,1070.7 1562.0,1073.0C1554.8,1075.3 1543.7,1074.3 1537.0,1074.0C1530.3,1073.7 1526.0,1072.7 1522.0,1071.0C1518.0,1069.3 1514.3,1065.2 1512.8,1064.0C1511.2,1065.2 1507.5,1069.3 1503.5,1071.0C1499.5,1072.7 1495.2,1073.7 1488.5,1074.0C1481.8,1074.3 1470.7,1075.3 1463.5,1073.0C1456.3,1070.7 1449.3,1066.5 1445.5,1060.0C1441.7,1053.5 1439.7,1043.3 1440.5,1034.0C1441.3,1024.7 1444.8,1014.0 1450.5,1004.0C1456.2,994.0 1464.1,985.3 1474.5,974.0C1484.9,962.7 1500.9,947.7 1512.8,936.0C1524.6,924.3 1535.9,914.3 1545.5,904.0C1555.1,893.7 1564.2,883.8 1570.5,874.0C1576.8,864.2 1580.8,854.0 1583.5,845.0C1586.2,836.0 1586.5,827.5 1586.5,820.0C1586.5,812.5 1586.2,805.5 1583.5,800.0C1580.8,794.5 1576.5,789.7 1570.5,787.0C1564.5,784.3 1555.0,784.2 1547.5,784.0C1540.0,783.8 1531.3,784.5 1525.5,786.0C1519.7,787.5 1514.9,791.8 1512.8,793.0Z" fill="none" stroke-linecap="butt" stroke-linejoin="miter" stroke-miterlimit="3" stroke="#e0e3e7" stroke-width="15.5"/>
<path d="M1512.8,793.0C1510.6,791.8 1505.8,787.5 1500.0,786.0C1494.2,784.5 1485.5,783.8 1478.0,784.0C1470.5,784.2 1461.0,784.3 1455.0,787.0C1449.0,789.7 1444.7,794.5 1442.0,800.0C1439.3,805.5 1439.0,812.5 1439.0,820.0C1439.0,827.5 1439.3,836.0 1442.0,845.0C1444.7,854.0 1448.7,864.2 1455.0,874.0C1461.3,883.8 1470.4,893.7 1480.0,904.0C1489.6,914.3 1500.9,924.3 1512.8,936.0C1524.6,947.7 1540.6,962.7 1551.0,974.0C1561.4,985.3 1569.3,994.0 1575.0,1004.0C1580.7,1014.0 1584.2,1024.7 1585.0,1034.0C1585.8,1043.3 1583.8,1053.5 1580.0,1060.0C1576.2,1066.5 1569.2,1070.7 1562.0,1073.0C1554.8,1075.3 1543.7,1074.3 1537.0,1074.0C1530.3,1073.7 1526.0,1072.7 1522.0,1071.0C1518.0,1069.3 1514.3,1065.2 1512.8,1064.0C1511.2,1065.2 1507.5,1069.3 1503.5,1071.0C1499.5,1072.7 1495.2,1073.7 1488.5,1074.0C1481.8,1074.3 1470.7,1075.3 1463.5,1073.0C1456.3,1070.7 1449.3,1066.5 1445.5,1060.0C1441.7,1053.5 1439.7,1043.3 1440.5,1034.0C1441.3,1024.7 1444.8,1014.0 1450.5,1004.0C1456.2,994.0 1464.1,985.3 1474.5,974.0C1484.9,962.7 1500.9,947.7 1512.8,936.0C1524.6,924.3 1535.9,914.3 1545.5,904.0C1555.1,893.7 1564.2,883.8 1570.5,874.0C1576.8,864.2 1580.8,854.0 1583.5,845.0C1586.2,836.0 1586.5,827.5 1586.5,820.0C1586.5,812.5 1586.2,805.5 1583.5,800.0C1580.8,794.5 1576.5,789.7 1570.5,787.0C1564.5,784.3 1555.0,784.2 1547.5,784.0C1540.0,783.8 1531.3,784.5 1525.5,786.0C1519.7,787.5 1514.9,791.8 1512.8,793.0Z" fill="none" stroke-linecap="butt" stroke-linejoin="miter" stroke-miterlimit="3" stroke="#eaecef" stroke-width="8.0" filter="url(#blur1)"/>
<path d="M1570.5,874.0C1566.3,879.0 1555.1,893.7 1545.5,904.0C1535.9,914.3 1524.6,924.3 1512.8,936.0C1500.9,947.7 1484.9,962.7 1474.5,974.0C1464.1,985.3 1454.5,999.0 1450.5,1004.0" fill="none" stroke-linecap="butt" stroke-linejoin="miter" stroke-miterlimit="3" stroke="#a9b1bb" stroke-width="20"/>
<path d="M1570.5,874.0C1566.3,879.0 1555.1,893.7 1545.5,904.0C1535.9,914.3 1524.6,924.3 1512.8,936.0C1500.9,947.7 1484.9,962.7 1474.5,974.0C1464.1,985.3 1454.5,999.0 1450.5,1004.0" fill="none" stroke-linecap="butt" stroke-linejoin="miter" stroke-miterlimit="3" stroke="#d5dadf" stroke-width="18.4"/>
<path d="M1570.5,874.0C1566.3,879.0 1555.1,893.7 1545.5,904.0C1535.9,914.3 1524.6,924.3 1512.8,936.0C1500.9,947.7 1484.9,962.7 1474.5,974.0C1464.1,985.3 1454.5,999.0 1450.5,1004.0" fill="none" stroke-linecap="butt" stroke-linejoin="miter" stroke-miterlimit="3" stroke="#e0e3e7" stroke-width="15.5"/>
<path d="M1570.5,874.0C1566.3,879.0 1555.1,893.7 1545.5,904.0C1535.9,914.3 1524.6,924.3 1512.8,936.0C1500.9,947.7 1484.9,962.7 1474.5,974.0C1464.1,985.3 1454.5,999.0 1450.5,1004.0" fill="none" stroke-linecap="butt" stroke-linejoin="miter" stroke-miterlimit="3" stroke="#eaecef" stroke-width="8.0" filter="url(#blur1)"/>
</g>
<g id="arrows">
<g fill="#000" stroke="none">
<rect x="438.3" y="620" width="2.2" height="287"/>
<path d="M439.4 607 L447.2 627.5 L431.6 627.5 Z"/>
<rect x="647" y="1048" width="2.8" height="205"/>
<path d="M648.4 1270 L656.2 1249.3 L640.6 1249.3 Z"/>
<rect x="1215" y="536" width="210" height="3"/>
<rect x="1215" y="536" width="3" height="232"/>
<path d="M1216.5 786 L1224.3 765.3 L1208.7 765.3 Z"/>
<rect x="1436" y="1543.5" width="3" height="40.5"/>
<rect x="1585" y="1543" width="3" height="40.5"/>
<rect x="1455" y="1562" width="114" height="4.2"/>
<path d="M1439 1564.1 L1459.2 1556.5 L1459.2 1571.7 Z"/>
<path d="M1585.2 1564.1 L1565 1556.5 L1565 1571.7 Z"/>
</g>

</g>
<g id="labels">
<text transform="translate(593.83,189.00) scale(0.8585,1)" font-size="108.9" letter-spacing="0.000" stroke="#000" stroke-width="1.0">R</text>
<text transform="translate(661.25,189.00) scale(0.8618,1)" font-size="108.9" letter-spacing="0.000" stroke="#000" stroke-width="1.0">O</text>
<text transform="translate(734.53,189.00) scale(0.8807,1)" font-size="108.9" letter-spacing="0.000" stroke="#000" stroke-width="1.0">S</text>
<text transform="translate(795.31,189.00) scale(0.8967,1)" font-size="108.9" letter-spacing="0.000" stroke="#000" stroke-width="1.0">E</text>
<text transform="translate(861.51,189.00) scale(0.8020,1)" font-size="108.9" letter-spacing="0.000" stroke="#000" stroke-width="1.0">C</text>
<text transform="translate(950.74,211.50) scale(0.8060,1.3)" font-size="108.9" letter-spacing="0.000" stroke="#000" stroke-width="0.8">J</text>
<text transform="translate(995.34,189.00) scale(0.8881,1)" font-size="108.9" letter-spacing="0.000" stroke="#000" stroke-width="1.0">E</text>
<text transform="translate(1064.00,189.00) scale(0.9012,1)" font-size="108.9" letter-spacing="0.000" stroke="#000" stroke-width="1.0">W</text>
<text transform="translate(1164.31,189.00) scale(0.8967,1)" font-size="108.9" letter-spacing="0.000" stroke="#000" stroke-width="1.0">E</text>
<text transform="translate(1230.37,189.00) scale(0.8787,1)" font-size="108.9" letter-spacing="0.000" stroke="#000" stroke-width="1.0">L</text>
<text transform="translate(1292.29,189.00) scale(0.9129,1)" font-size="108.9" letter-spacing="0.000" stroke="#000" stroke-width="1.0">S</text>
<text transform="translate(326.86,288.80) scale(1.1000,1)" font-size="64" letter-spacing="1.311" stroke="#000" stroke-width="0.7">Experience</text>
<text transform="translate(673.99,288.80) scale(1.0734,1)" font-size="64" letter-spacing="0.000" stroke="#000" stroke-width="0.7">100%</text>
<text transform="translate(855.06,288.80) scale(1.1000,1)" font-size="64" letter-spacing="1.867" stroke="#000" stroke-width="0.7">Natural</text>
<text transform="translate(1100.56,288.80) scale(1.1000,1)" font-size="64" letter-spacing="1.474" stroke="#000" stroke-width="0.7">Emerald&#39;s</text>
<text transform="translate(1414.06,288.80) scale(1.1000,1)" font-size="64" letter-spacing="0.180" stroke="#000" stroke-width="0.7">Elegance</text>
<text transform="translate(340.62,543.00) scale(1.0237,1)" font-size="43" letter-spacing="0.000" stroke="#000" stroke-width="0.47">4.00</text>
<text transform="translate(426.42,543.00) scale(0.9977,1)" font-size="43" letter-spacing="0.000" stroke="#000" stroke-width="0.47">MM</text>
<text transform="translate(513.50,543.00) scale(1.1000,1)" font-size="43" letter-spacing="0.004" stroke="#000" stroke-width="0.47">Princess</text>
<text transform="translate(682.00,543.00) scale(0.9900,1)" font-size="43" letter-spacing="0.000" stroke="#000" stroke-width="0.47">Cut</text>
<text transform="translate(756.60,543.00) scale(1.0956,1)" font-size="43" letter-spacing="0.000" stroke="#000" stroke-width="0.47">Emerald</text>
<text transform="translate(341.12,590.00) scale(0.8924,1)" font-size="43" letter-spacing="0.000" stroke="#000" stroke-width="0.47">AAA</text>
<text transform="translate(435.14,590.00) scale(1.0804,1)" font-size="43" letter-spacing="0.000" stroke="#000" stroke-width="0.47">Quality</text>
<text transform="translate(557.01,1307.60) scale(1.0919,1)" font-size="43" letter-spacing="0.000" stroke="#000" stroke-width="0.47">Diamond</text>
<text transform="translate(478.12,1354.60) scale(1.0005,1)" font-size="43" letter-spacing="0.000" stroke="#000" stroke-width="0.47">HI</text>
<text transform="translate(535.24,1354.60) scale(1.0220,1)" font-size="43" letter-spacing="0.000" stroke="#000" stroke-width="0.47">Color</text>
<text transform="translate(645.55,1354.60) scale(0.9806,1)" font-size="43" letter-spacing="0.000" stroke="#000" stroke-width="0.47">SI</text>
<text transform="translate(693.18,1354.60) scale(1.0561,1)" font-size="43" letter-spacing="0.000" stroke="#000" stroke-width="0.47">Clarity</text>
<text transform="translate(1089.03,833.00) scale(1.0700,1)" font-size="43" letter-spacing="0.000" stroke="#000" stroke-width="0.47">Prong-Setting</text>
<text transform="translate(1435.23,1621.90) scale(0.9880,1)" font-size="43.6" letter-spacing="0.000" stroke="#000" stroke-width="0.48">1.40MM</text>
<text transform="translate(195.44,1795.80) scale(1.0260,1)" font-size="54.5" letter-spacing="0.000" stroke="#000" stroke-width="0.6">Available</text>
<text transform="translate(421.26,1795.80) scale(0.9583,1)" font-size="54.5" letter-spacing="0.000" stroke="#000" stroke-width="0.6">Ring</text>
<text transform="translate(535.31,1795.80) scale(0.9752,1)" font-size="54.5" letter-spacing="0.000" stroke="#000" stroke-width="0.6">Size</text>
<text transform="translate(622.21,1783.80) scale(0.9938,1)" font-size="36" letter-spacing="0.000" stroke="#000" stroke-width="0.4">*</text>
<text transform="translate(635.76,1799.70) scale(0.8352,1)" font-size="52.5" letter-spacing="0.000" stroke="#000" stroke-width="0.58">-</text>
<text transform="translate(665.67,1799.70) scale(0.8844,1)" font-size="52.5" letter-spacing="0.000" stroke="#000" stroke-width="0.58">US</text>
<text transform="translate(736.30,1799.70) scale(1.0020,1)" font-size="52.5" letter-spacing="0.000" stroke="#000" stroke-width="0.58">3</text>
<text transform="translate(775.43,1799.70) scale(1.0802,1)" font-size="52.5" letter-spacing="0.000" stroke="#000" stroke-width="0.58">to</text>
<text transform="translate(830.80,1799.70) scale(1.0457,1)" font-size="52.5" letter-spacing="0.000" stroke="#000" stroke-width="0.58">13</text>
<text transform="translate(147.88,1849.80) scale(0.9185,1)" font-size="33" letter-spacing="0.000" stroke="#000" stroke-width="0.36">*</text>
<text transform="translate(160.18,1859.80) scale(1.0280,1)" font-size="44.5" letter-spacing="0.000" stroke="#000" stroke-width="0.49">customizable</text>
<text transform="translate(410.90,1859.80) scale(1.0260,1)" font-size="44.5" letter-spacing="0.000" stroke="#000" stroke-width="0.49">according</text>
<text transform="translate(601.51,1859.80) scale(1.0928,1)" font-size="44.5" letter-spacing="0.000" stroke="#000" stroke-width="0.49">to</text>
<text transform="translate(649.45,1859.80) scale(0.9881,1)" font-size="44.5" letter-spacing="0.000" stroke="#000" stroke-width="0.49">your</text>
<text transform="translate(741.04,1859.80) scale(1.0822,1)" font-size="44.5" letter-spacing="0.000" stroke="#000" stroke-width="0.49">requirement</text>
<text transform="translate(1148.49,1856.30) scale(1.0528,1)" font-size="54.5" letter-spacing="0.000" stroke="#000" stroke-width="0.6">Includes</text>
<text transform="translate(1354.48,1856.30) scale(1.0181,1)" font-size="54.5" letter-spacing="0.000" stroke="#000" stroke-width="0.6">Certificate</text>
<text transform="translate(1601.18,1856.30) scale(1.0363,1)" font-size="54.5" letter-spacing="0.000" stroke="#000" stroke-width="0.6">of</text>
<text transform="translate(1659.04,1856.30) scale(1.0308,1)" font-size="54.5" letter-spacing="0.000" stroke="#000" stroke-width="0.6">Authenticity</text>
</g>
</svg>
</body></html>
